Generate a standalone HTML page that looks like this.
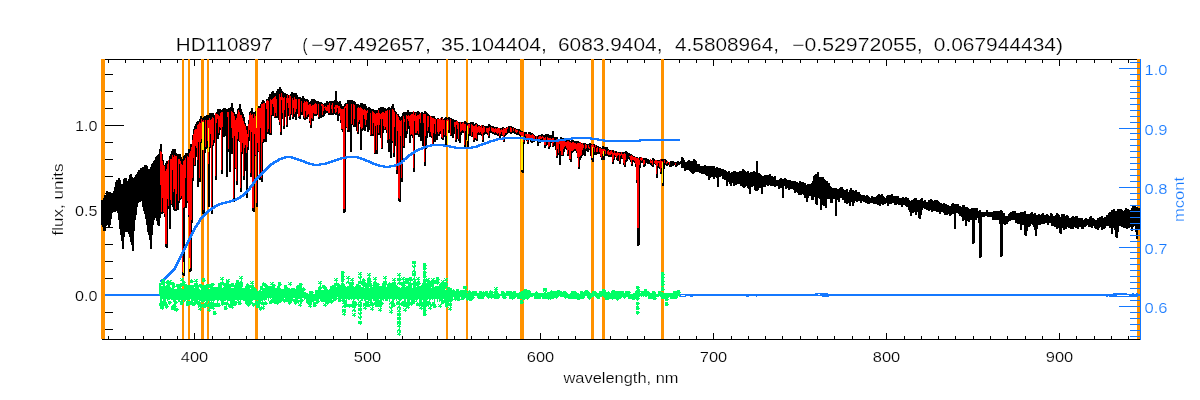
<!DOCTYPE html>
<html><head><meta charset="utf-8"><title>HD110897</title>
<style>html,body{margin:0;padding:0;background:#fff;width:1200px;height:400px;overflow:hidden;font-family:"Liberation Sans",sans-serif}</style>
</head><body>
<svg width="1200" height="400" viewBox="0 0 1200 400" style="position:absolute;left:0;top:0">
<rect width="1200" height="400" fill="#fff"/>
<g stroke="#000" stroke-width="1" fill="none" shape-rendering="crispEdges">
<path d="M105,59.5H1137M102,339.5H1140"/>
<path d="M108.5,59.5v3.5M108.5,339.5v-3.5M125.5,59.5v3.5M125.5,339.5v-3.5M143.5,59.5v3.5M143.5,339.5v-3.5M160.5,59.5v3.5M160.5,339.5v-3.5M177.5,59.5v3.5M177.5,339.5v-3.5M194.5,59.5v6.5M194.5,339.5v-6.5M212.5,59.5v3.5M212.5,339.5v-3.5M229.5,59.5v3.5M229.5,339.5v-3.5M246.5,59.5v3.5M246.5,339.5v-3.5M264.5,59.5v3.5M264.5,339.5v-3.5M281.5,59.5v3.5M281.5,339.5v-3.5M298.5,59.5v3.5M298.5,339.5v-3.5M315.5,59.5v3.5M315.5,339.5v-3.5M333.5,59.5v3.5M333.5,339.5v-3.5M350.5,59.5v3.5M350.5,339.5v-3.5M367.5,59.5v6.5M367.5,339.5v-6.5M385.5,59.5v3.5M385.5,339.5v-3.5M402.5,59.5v3.5M402.5,339.5v-3.5M419.5,59.5v3.5M419.5,339.5v-3.5M437.5,59.5v3.5M437.5,339.5v-3.5M454.5,59.5v3.5M454.5,339.5v-3.5M471.5,59.5v3.5M471.5,339.5v-3.5M488.5,59.5v3.5M488.5,339.5v-3.5M506.5,59.5v3.5M506.5,339.5v-3.5M523.5,59.5v3.5M523.5,339.5v-3.5M540.5,59.5v6.5M540.5,339.5v-6.5M558.5,59.5v3.5M558.5,339.5v-3.5M575.5,59.5v3.5M575.5,339.5v-3.5M592.5,59.5v3.5M592.5,339.5v-3.5M610.5,59.5v3.5M610.5,339.5v-3.5M627.5,59.5v3.5M627.5,339.5v-3.5M644.5,59.5v3.5M644.5,339.5v-3.5M661.5,59.5v3.5M661.5,339.5v-3.5M679.5,59.5v3.5M679.5,339.5v-3.5M696.5,59.5v3.5M696.5,339.5v-3.5M713.5,59.5v6.5M713.5,339.5v-6.5M731.5,59.5v3.5M731.5,339.5v-3.5M748.5,59.5v3.5M748.5,339.5v-3.5M765.5,59.5v3.5M765.5,339.5v-3.5M782.5,59.5v3.5M782.5,339.5v-3.5M800.5,59.5v3.5M800.5,339.5v-3.5M817.5,59.5v3.5M817.5,339.5v-3.5M834.5,59.5v3.5M834.5,339.5v-3.5M852.5,59.5v3.5M852.5,339.5v-3.5M869.5,59.5v3.5M869.5,339.5v-3.5M886.5,59.5v6.5M886.5,339.5v-6.5M904.5,59.5v3.5M904.5,339.5v-3.5M921.5,59.5v3.5M921.5,339.5v-3.5M938.5,59.5v3.5M938.5,339.5v-3.5M955.5,59.5v3.5M955.5,339.5v-3.5M973.5,59.5v3.5M973.5,339.5v-3.5M990.5,59.5v3.5M990.5,339.5v-3.5M1007.5,59.5v3.5M1007.5,339.5v-3.5M1025.5,59.5v3.5M1025.5,339.5v-3.5M1042.5,59.5v3.5M1042.5,339.5v-3.5M1059.5,59.5v6.5M1059.5,339.5v-6.5M1076.5,59.5v3.5M1076.5,339.5v-3.5M1094.5,59.5v3.5M1094.5,339.5v-3.5M1111.5,59.5v3.5M1111.5,339.5v-3.5M1128.5,59.5v3.5M1128.5,339.5v-3.5M105,329.5h8M105,312.5h8M105,295.5h19M105,278.5h8M105,261.5h8M105,244.5h8M105,227.5h8M105,210.5h19M105,193.5h8M105,176.5h8M105,159.5h8M105,142.5h8M105,125.5h19M105,108.5h8M105,91.5h8M105,74.5h8"/>
</g>
<g fill="#ff9200" shape-rendering="crispEdges">
<rect x="101" y="59" width="4" height="280"/>
<rect x="182" y="59" width="2" height="280"/>
<rect x="188" y="59" width="2" height="280"/>
<rect x="201" y="59" width="3" height="280"/>
<rect x="207" y="59" width="2" height="280"/>
<rect x="255" y="59" width="3" height="280"/>
<rect x="446" y="59" width="2" height="280"/>
<rect x="466" y="59" width="2" height="280"/>
<rect x="520" y="59" width="4" height="280"/>
<rect x="591" y="59" width="3" height="280"/>
<rect x="602" y="59" width="3" height="280"/>
<rect x="661" y="59" width="3" height="280"/>
<rect x="1137" y="59" width="3" height="280"/>
</g>
<path d="M101.5,200V225M102.5,200V227M103.5,198V231M104.5,195V231M105.5,195V231M106.5,191V226M107.5,191V225M108.5,192V227M109.5,192V227M110.5,192V225M111.5,193V219M112.5,193V213M113.5,191V212M114.5,187V212M115.5,182V212M116.5,180V210M117.5,180V213M118.5,178V220M119.5,178V229M120.5,180V235M121.5,184V241M122.5,184V249M123.5,179V249M124.5,178V237M125.5,178V232M126.5,178V232M127.5,181V232M128.5,179V234M129.5,175V237M130.5,174V242M131.5,174V245M132.5,177V251M133.5,178V251M134.5,177V231M135.5,175V220M136.5,174V215M137.5,172V207M138.5,170V203M139.5,170V202M140.5,168V202M141.5,168V201M142.5,167V207M143.5,167V211M144.5,165V214M145.5,165V219M146.5,165V225M147.5,166V232M148.5,169V235M149.5,169V240M150.5,167V249M151.5,164V249M152.5,163V235M153.5,161V225M154.5,160V220M155.5,157V218M156.5,156V221M157.5,155V225M158.5,154V226M159.5,149V226M160.5,144V218M161.5,144V214M162.5,154V214M163.5,160V213M164.5,165V217M165.5,163V247M166.5,161V248M167.5,161V248M168.5,161V209M169.5,156V229M170.5,154V229M171.5,151V205M172.5,149V207M173.5,149V210M174.5,149V211M175.5,149V211M176.5,153V211M177.5,154V210M178.5,154V210M179.5,154V203M180.5,154V200M181.5,157V199M182.5,159V275M183.5,156V276M184.5,155V276M185.5,153V208M186.5,153V208M187.5,153V203M188.5,149V217M189.5,149V272M190.5,144V272M191.5,144V271M192.5,135V223M193.5,129V181M194.5,126V166M195.5,124V166M196.5,122V157M197.5,121V187M198.5,121V187M199.5,119V182M200.5,116V182M201.5,116V143M202.5,118V214M203.5,117V214M204.5,116V213M205.5,116V153M206.5,115V149M207.5,115V148M208.5,115V207M209.5,113V207M210.5,113V148M211.5,113V214M212.5,113V214M213.5,113V146M214.5,115V143M215.5,114V180M216.5,112V180M217.5,109V139M218.5,109V139M219.5,109V135M220.5,109V130M221.5,110V174M222.5,109V174M223.5,108V137M224.5,108V137M225.5,108V136M226.5,109V177M227.5,109V177M228.5,108V152M229.5,108V172M230.5,107V172M231.5,103V154M232.5,103V154M233.5,108V202M234.5,112V202M235.5,114V169M236.5,114V185M237.5,109V185M238.5,108V141M239.5,104V142M240.5,104V192M241.5,109V192M242.5,112V154M243.5,114V180M244.5,117V180M245.5,123V171M246.5,126V198M247.5,126V198M248.5,120V150M249.5,112V141M250.5,111V177M251.5,108V177M252.5,108V211M253.5,112V212M254.5,112V212M255.5,111V156M256.5,108V207M257.5,108V207M258.5,106V152M259.5,106V180M260.5,104V180M261.5,102V182M262.5,100V182M263.5,100V143M264.5,101V142M265.5,103V142M266.5,99V142M267.5,99V134M268.5,97V134M269.5,94V135M270.5,94V135M271.5,92V135M272.5,91V116M273.5,91V116M274.5,93V118M275.5,93V118M276.5,91V118M277.5,89V118M278.5,89V120M279.5,87V125M280.5,87V135M281.5,89V135M282.5,91V119M283.5,92V129M284.5,93V129M285.5,93V117M286.5,94V127M287.5,94V127M288.5,95V116M289.5,95V120M290.5,94V120M291.5,92V115M292.5,92V119M293.5,93V119M294.5,93V117M295.5,93V120M296.5,93V120M297.5,95V114M298.5,97V118M299.5,97V119M300.5,97V119M301.5,98V115M302.5,96V115M303.5,96V119M304.5,98V120M305.5,99V120M306.5,99V119M307.5,99V119M308.5,100V117M309.5,102V123M310.5,101V128M311.5,99V128M312.5,99V121M313.5,99V121M314.5,99V116M315.5,100V116M316.5,101V116M317.5,101V115M318.5,101V119M319.5,102V119M320.5,102V118M321.5,102V118M322.5,103V117M323.5,104V117M324.5,103V116M325.5,103V114M326.5,101V113M327.5,101V113M328.5,102V115M329.5,101V115M330.5,101V115M331.5,101V115M332.5,101V115M333.5,101V115M334.5,100V114M335.5,91V115M336.5,91V115M337.5,101V121M338.5,102V121M339.5,101V116M340.5,101V123M341.5,104V130M342.5,106V132M343.5,106V213M344.5,104V213M345.5,103V212M346.5,103V128M347.5,100V132M348.5,100V132M349.5,100V132M350.5,100V152M351.5,100V152M352.5,100V125M353.5,101V127M354.5,101V127M355.5,102V127M356.5,104V131M357.5,104V134M358.5,104V134M359.5,105V124M360.5,103V150M361.5,103V150M362.5,103V131M363.5,104V130M364.5,104V131M365.5,104V131M366.5,106V127M367.5,108V132M368.5,107V132M369.5,107V130M370.5,108V136M371.5,109V136M372.5,109V136M373.5,109V136M374.5,110V154M375.5,110V154M376.5,110V154M377.5,110V154M378.5,108V135M379.5,108V135M380.5,107V138M381.5,107V149M382.5,107V149M383.5,107V133M384.5,108V130M385.5,108V130M386.5,109V133M387.5,108V143M388.5,107V152M389.5,107V152M390.5,108V158M391.5,106V158M392.5,104V143M393.5,104V157M394.5,108V157M395.5,111V146M396.5,112V174M397.5,114V174M398.5,114V201M399.5,116V202M400.5,117V202M401.5,116V182M402.5,113V182M403.5,112V148M404.5,112V148M405.5,112V138M406.5,112V138M407.5,110V134M408.5,110V129M409.5,112V143M410.5,112V143M411.5,112V136M412.5,112V138M413.5,112V172M414.5,112V172M415.5,112V135M416.5,112V135M417.5,111V135M418.5,111V137M419.5,112V137M420.5,113V141M421.5,112V141M422.5,112V146M423.5,113V147M424.5,111V166M425.5,111V166M426.5,112V149M427.5,113V138M428.5,114V133M429.5,115V137M430.5,116V137M431.5,116V138M432.5,116V146M433.5,116V146M434.5,116V142M435.5,118V142M436.5,119V140M437.5,118V140M438.5,118V136M439.5,119V136M440.5,119V134M441.5,117V139M442.5,117V140M443.5,119V140M444.5,118V137M445.5,117V146M446.5,117V146M447.5,118V138M448.5,117V133M449.5,117V133M450.5,118V136M451.5,118V136M452.5,119V138M453.5,119V138M454.5,120V134M455.5,120V142M456.5,120V142M457.5,121V139M458.5,122V141M459.5,122V143M460.5,122V143M461.5,122V135M462.5,122V133M463.5,123V133M464.5,121V147M465.5,121V147M466.5,122V140M467.5,123V148M468.5,123V148M469.5,123V136M470.5,122V136M471.5,122V137M472.5,122V137M473.5,122V142M474.5,124V142M475.5,123V140M476.5,123V141M477.5,124V141M478.5,125V135M479.5,125V135M480.5,126V135M481.5,125V136M482.5,125V142M483.5,125V142M484.5,126V135M485.5,126V134M486.5,126V134M487.5,126V135M488.5,124V138M489.5,124V138M490.5,125V133M491.5,126V133M492.5,126V134M493.5,126V134M494.5,127V135M495.5,127V135M496.5,127V135M497.5,127V136M498.5,129V136M499.5,128V138M500.5,128V138M501.5,128V136M502.5,127V136M503.5,127V142M504.5,128V142M505.5,128V136M506.5,127V135M507.5,127V134M508.5,126V133M509.5,126V133M510.5,126V134M511.5,126V134M512.5,127V133M513.5,127V133M514.5,128V134M515.5,128V134M516.5,129V135M517.5,129V135M518.5,129V135M519.5,129V136M520.5,130V137M521.5,131V172M522.5,131V173M523.5,132V173M524.5,132V144M525.5,132V138M526.5,132V141M527.5,134V144M528.5,132V144M529.5,132V140M530.5,132V142M531.5,133V143M532.5,133V143M533.5,134V142M534.5,135V142M535.5,136V141M536.5,136V140M537.5,136V146M538.5,135V146M539.5,135V143M540.5,135V143M541.5,134V141M542.5,134V141M543.5,135V142M544.5,135V148M545.5,134V148M546.5,134V146M547.5,134V145M548.5,134V149M549.5,135V149M550.5,135V147M551.5,135V143M552.5,131V147M553.5,131V147M554.5,137V146M555.5,137V150M556.5,137V158M557.5,137V158M558.5,139V155M559.5,139V165M560.5,137V165M561.5,137V156M562.5,138V156M563.5,138V156M564.5,139V152M565.5,140V149M566.5,138V150M567.5,138V156M568.5,140V156M569.5,140V160M570.5,141V162M571.5,140V162M572.5,140V153M573.5,140V152M574.5,141V151M575.5,141V151M576.5,141V153M577.5,141V158M578.5,141V169M579.5,142V169M580.5,143V160M581.5,143V158M582.5,143V156M583.5,143V155M584.5,143V156M585.5,143V156M586.5,144V151M587.5,144V152M588.5,144V152M589.5,143V150M590.5,143V156M591.5,144V160M592.5,144V162M593.5,144V162M594.5,144V155M595.5,145V155M596.5,145V155M597.5,146V154M598.5,146V154M599.5,147V154M600.5,147V157M601.5,148V160M602.5,146V160M603.5,146V160M604.5,147V160M605.5,147V156M606.5,147V156M607.5,147V156M608.5,149V157M609.5,150V157M610.5,150V157M611.5,150V157M612.5,150V164M613.5,150V164M614.5,151V160M615.5,151V157M616.5,151V160M617.5,152V161M618.5,152V161M619.5,152V164M620.5,152V164M621.5,152V159M622.5,152V159M623.5,152V165M624.5,152V167M625.5,151V167M626.5,151V162M627.5,152V161M628.5,153V159M629.5,153V160M630.5,154V162M631.5,154V166M632.5,155V166M633.5,156V162M634.5,156V163M635.5,157V167M636.5,157V183M637.5,157V246M638.5,158V246M639.5,157V245M640.5,157V168M641.5,158V163M642.5,158V163M643.5,158V167M644.5,158V167M645.5,158V166M646.5,158V163M647.5,159V164M648.5,159V164M649.5,160V164M650.5,160V165M651.5,160V166M652.5,158V167M653.5,158V167M654.5,159V164M655.5,160V165M656.5,161V178M657.5,160V178M658.5,160V168M659.5,160V169M660.5,159V174M661.5,159V174M662.5,159V186M663.5,159V186M664.5,159V169M665.5,159V165M666.5,160V166M667.5,161V166M668.5,162V165M669.5,162V167M670.5,161V167M671.5,161V167M672.5,161V166M673.5,161V166M674.5,162V165M675.5,162V167M676.5,162V167M677.5,161V166M678.5,161V165M679.5,162V165M680.5,161V164M681.5,157V168M682.5,157V168M683.5,158V168M684.5,160V171M685.5,162V171M686.5,162V170M687.5,161V170M688.5,160V170M689.5,160V171M690.5,161V172M691.5,161V173M692.5,161V174M693.5,159V174M694.5,159V173M695.5,160V172M696.5,161V172M697.5,164V172M698.5,164V172M699.5,164V173M700.5,166V173M701.5,166V174M702.5,166V174M703.5,166V174M704.5,165V174M705.5,165V175M706.5,166V176M707.5,166V176M708.5,166V180M709.5,166V180M710.5,166V178M711.5,166V177M712.5,166V177M713.5,166V179M714.5,166V179M715.5,168V177M716.5,167V178M717.5,167V187M718.5,168V187M719.5,168V177M720.5,168V177M721.5,169V176M722.5,169V179M723.5,169V179M724.5,170V180M725.5,170V180M726.5,171V186M727.5,172V186M728.5,171V182M729.5,171V184M730.5,173V186M731.5,172V186M732.5,172V183M733.5,171V186M734.5,171V186M735.5,171V185M736.5,172V185M737.5,172V184M738.5,172V184M739.5,171V184M740.5,171V186M741.5,171V186M742.5,169V187M743.5,169V188M744.5,170V188M745.5,171V187M746.5,172V186M747.5,171V188M748.5,171V189M749.5,173V194M750.5,172V194M751.5,172V187M752.5,172V187M753.5,171V186M754.5,171V190M755.5,172V191M756.5,161V191M757.5,161V191M758.5,173V190M759.5,173V188M760.5,174V188M761.5,175V194M762.5,176V194M763.5,176V187M764.5,175V187M765.5,175V187M766.5,175V185M767.5,175V186M768.5,175V186M769.5,174V185M770.5,174V186M771.5,176V186M772.5,176V186M773.5,177V186M774.5,176V187M775.5,176V187M776.5,180V186M777.5,180V186M778.5,180V189M779.5,179V189M780.5,178V188M781.5,178V188M782.5,179V198M783.5,179V198M784.5,178V186M785.5,178V189M786.5,179V189M787.5,180V188M788.5,180V190M789.5,180V190M790.5,180V189M791.5,181V189M792.5,181V189M793.5,181V190M794.5,181V193M795.5,181V193M796.5,182V192M797.5,182V193M798.5,183V195M799.5,181V195M800.5,181V195M801.5,182V195M802.5,182V194M803.5,182V195M804.5,183V198M805.5,183V198M806.5,185V202M807.5,184V202M808.5,184V198M809.5,184V196M810.5,184V196M811.5,183V200M812.5,181V200M813.5,176V200M814.5,175V197M815.5,174V204M816.5,174V205M817.5,172V205M818.5,172V198M819.5,177V199M820.5,177V210M821.5,177V210M822.5,177V205M823.5,177V206M824.5,179V206M825.5,180V208M826.5,181V208M827.5,181V199M828.5,183V199M829.5,183V199M830.5,186V203M831.5,187V203M832.5,188V203M833.5,188V199M834.5,188V199M835.5,188V216M836.5,188V216M837.5,189V200M838.5,189V202M839.5,188V202M840.5,187V198M841.5,187V198M842.5,187V200M843.5,189V200M844.5,190V203M845.5,190V203M846.5,189V204M847.5,189V204M848.5,192V203M849.5,190V206M850.5,188V206M851.5,188V202M852.5,190V206M853.5,190V206M854.5,191V203M855.5,190V201M856.5,190V202M857.5,192V202M858.5,192V201M859.5,192V201M860.5,194V203M861.5,195V203M862.5,195V201M863.5,195V202M864.5,195V202M865.5,196V203M866.5,195V203M867.5,195V204M868.5,196V204M869.5,197V204M870.5,198V203M871.5,196V203M872.5,196V203M873.5,197V204M874.5,197V204M875.5,197V204M876.5,196V204M877.5,195V205M878.5,194V205M879.5,194V206M880.5,195V206M881.5,194V204M882.5,194V205M883.5,196V205M884.5,197V204M885.5,198V204M886.5,196V203M887.5,195V206M888.5,195V206M889.5,195V204M890.5,195V204M891.5,194V204M892.5,194V203M893.5,196V203M894.5,196V205M895.5,196V205M896.5,196V205M897.5,196V204M898.5,196V205M899.5,198V205M900.5,198V205M901.5,198V207M902.5,197V207M903.5,197V205M904.5,198V205M905.5,197V206M906.5,197V207M907.5,198V207M908.5,198V210M909.5,200V212M910.5,201V216M911.5,200V216M912.5,200V213M913.5,199V213M914.5,198V212M915.5,198V215M916.5,198V215M917.5,200V212M918.5,200V218M919.5,200V219M920.5,199V219M921.5,198V215M922.5,198V210M923.5,201V208M924.5,200V209M925.5,200V209M926.5,202V210M927.5,202V210M928.5,200V211M929.5,200V211M930.5,199V210M931.5,199V212M932.5,200V212M933.5,201V211M934.5,200V211M935.5,200V211M936.5,200V212M937.5,200V212M938.5,201V212M939.5,202V214M940.5,203V214M941.5,203V212M942.5,204V212M943.5,203V213M944.5,203V215M945.5,204V215M946.5,204V215M947.5,205V215M948.5,205V214M949.5,206V216M950.5,206V216M951.5,204V215M952.5,203V214M953.5,203V214M954.5,204V229M955.5,204V229M956.5,204V213M957.5,204V213M958.5,204V214M959.5,206V216M960.5,206V216M961.5,207V217M962.5,205V221M963.5,205V221M964.5,205V220M965.5,207V226M966.5,207V226M967.5,207V221M968.5,208V222M969.5,209V222M970.5,209V220M971.5,208V220M972.5,208V244M973.5,208V244M974.5,208V243M975.5,208V220M976.5,208V220M977.5,208V218M978.5,211V223M979.5,210V258M980.5,210V258M981.5,212V257M982.5,212V217M983.5,212V217M984.5,212V217M985.5,212V216M986.5,210V216M987.5,210V217M988.5,212V217M989.5,212V217M990.5,212V217M991.5,212V217M992.5,212V220M993.5,211V220M994.5,211V220M995.5,211V220M996.5,211V220M997.5,211V220M998.5,211V220M999.5,211V224M1000.5,210V257M1001.5,210V257M1002.5,211V256M1003.5,213V224M1004.5,213V225M1005.5,216V225M1006.5,216V224M1007.5,216V224M1008.5,214V222M1009.5,213V221M1010.5,212V221M1011.5,212V220M1012.5,211V220M1013.5,211V220M1014.5,211V220M1015.5,211V223M1016.5,213V223M1017.5,213V224M1018.5,213V224M1019.5,213V224M1020.5,212V230M1021.5,212V230M1022.5,212V225M1023.5,212V225M1024.5,211V235M1025.5,211V236M1026.5,214V236M1027.5,214V231M1028.5,214V227M1029.5,214V227M1030.5,213V226M1031.5,212V224M1032.5,212V225M1033.5,214V227M1034.5,213V230M1035.5,213V236M1036.5,215V236M1037.5,215V229M1038.5,214V225M1039.5,214V225M1040.5,215V225M1041.5,214V224M1042.5,213V224M1043.5,213V224M1044.5,215V224M1045.5,215V223M1046.5,214V223M1047.5,214V225M1048.5,215V225M1049.5,216V223M1050.5,213V223M1051.5,213V226M1052.5,214V226M1053.5,216V226M1054.5,216V227M1055.5,215V227M1056.5,213V229M1057.5,213V229M1058.5,214V228M1059.5,215V233M1060.5,217V234M1061.5,214V234M1062.5,214V228M1063.5,214V230M1064.5,214V230M1065.5,216V229M1066.5,215V229M1067.5,215V227M1068.5,216V228M1069.5,218V228M1070.5,218V229M1071.5,217V229M1072.5,216V229M1073.5,216V229M1074.5,217V227M1075.5,216V228M1076.5,216V228M1077.5,216V229M1078.5,218V229M1079.5,218V227M1080.5,218V227M1081.5,218V229M1082.5,218V229M1083.5,220V229M1084.5,219V227M1085.5,218V227M1086.5,218V226M1087.5,219V225M1088.5,219V227M1089.5,217V227M1090.5,216V227M1091.5,216V228M1092.5,218V228M1093.5,218V226M1094.5,219V228M1095.5,220V229M1096.5,220V229M1097.5,218V230M1098.5,218V230M1099.5,217V228M1100.5,217V227M1101.5,216V230M1102.5,216V230M1103.5,218V229M1104.5,217V229M1105.5,217V228M1106.5,215V226M1107.5,215V226M1108.5,213V226M1109.5,212V228M1110.5,212V228M1111.5,210V234M1112.5,210V234M1113.5,209V228M1114.5,209V230M1115.5,211V237M1116.5,211V238M1117.5,209V238M1118.5,209V232M1119.5,209V226M1120.5,209V226M1121.5,209V227M1122.5,210V227M1123.5,211V228M1124.5,210V228M1125.5,208V228M1126.5,208V229M1127.5,209V229M1128.5,209V228M1129.5,210V228M1130.5,210V227M1131.5,208V231M1132.5,205V231M1133.5,205V227M1134.5,205V226M1135.5,205V232M1136.5,207V239M1137.5,207V239M1138.5,208V230M1139.5,208V230M1140.5,207V230" stroke="#000" stroke-width="1" fill="none" shape-rendering="crispEdges"/>
<path d="M160.5,151V185M161.5,152V212M162.5,161V198M163.5,165V212M164.5,166V214M165.5,171V244M166.5,169V244M167.5,164V199M168.5,160V206M170.5,159V200M171.5,159V204M172.5,155V170M173.5,157V192M174.5,155V189M175.5,156V209M176.5,156V194M178.5,159V201M179.5,159V164M180.5,161V198M181.5,164V196M182.5,165V272M183.5,161V208M184.5,160V207M185.5,158V178M187.5,156V201M188.5,157V215M189.5,153V268M190.5,151V268M191.5,147V220M192.5,140V178M193.5,134V158M194.5,130V165M195.5,129V146M196.5,129V148M197.5,125V160M198.5,124V142M199.5,122V178M200.5,123V142M201.5,119V139M202.5,121V143M203.5,120V210M205.5,120V147M207.5,120V141M208.5,120V164M209.5,118V147M210.5,120V134M211.5,119V210M212.5,117V145M213.5,118V140M215.5,113V176M216.5,114V123M217.5,114V119M218.5,115V133M219.5,116V127M220.5,113V128M221.5,112V170M222.5,112V127M227.5,112V117M228.5,112V149M231.5,111V128M232.5,112V138M233.5,113V198M234.5,116V136M235.5,120V168M236.5,118V181M237.5,114V139M238.5,110V132M239.5,112V141M240.5,115V188M241.5,115V152M242.5,118V143M243.5,121V176M244.5,124V148M245.5,126V145M246.5,130V153M247.5,134V147M248.5,124V137M249.5,115V130M250.5,113V173M251.5,115V132M252.5,114V208M253.5,118V208M254.5,114V134M255.5,116V155M256.5,112V203M257.5,108V143M258.5,108V151M259.5,108V177M260.5,108V128M261.5,104V178M262.5,104V142M263.5,103V139M264.5,103V139M266.5,101V109M267.5,100V132M268.5,101V129M270.5,99V133M271.5,100V115M272.5,99V104M273.5,98V107M274.5,97V117M275.5,96V113M276.5,99V116M279.5,94V122M280.5,97V132M281.5,93V100M282.5,97V113M283.5,98V126M284.5,97V110M286.5,98V125M287.5,95V103M288.5,98V108M289.5,95V117M290.5,96V114M292.5,98V117M293.5,100V108M294.5,97V114M295.5,99V112M296.5,99V109M298.5,99V117M299.5,99V116M301.5,101V112M303.5,103V116M304.5,101V118M305.5,102V111M306.5,101V117M307.5,102V115M308.5,105V114M309.5,104V121M310.5,104V125M311.5,106V118M312.5,105V119M313.5,105V113M314.5,104V114M315.5,103V114M316.5,104V114M318.5,104V117M321.5,104V106M322.5,104V115M323.5,105V111M324.5,107V108M325.5,106V110M326.5,107V111M327.5,105V111M328.5,105V113M329.5,103V113M331.5,105V109M332.5,103V113M334.5,107V109M335.5,105V113M336.5,105V112M337.5,105V108M338.5,106V114M339.5,106V113M340.5,108V120M341.5,109V129M342.5,109V129M343.5,109V209M344.5,107V209M345.5,106V108M346.5,104V127M347.5,104V130M351.5,104V124M353.5,104V125M354.5,105V119M357.5,108V132M358.5,107V122M359.5,108V120M360.5,107V127M361.5,108V129M362.5,109V128M363.5,110V115M364.5,109V119M365.5,110V125M366.5,111V120M367.5,110V113M370.5,113V135M372.5,111V134M373.5,112V123M374.5,113V153M375.5,114V126M376.5,113V150M377.5,113V125M378.5,110V133M379.5,113V125M380.5,114V119M381.5,113V148M382.5,112V119M383.5,112V126M384.5,113V129M385.5,111V127M386.5,111V130M387.5,110V140M389.5,110V139M392.5,109V141M393.5,110V153M394.5,112V127M396.5,114V170M397.5,115V131M398.5,117V198M399.5,120V199M400.5,121V136M401.5,120V178M403.5,116V146M404.5,119V122M406.5,115V131M407.5,116V119M408.5,115V121M409.5,116V126M410.5,115V135M411.5,114V134M412.5,114V135M413.5,111V168M414.5,115V121M415.5,113V133M416.5,116V133M417.5,115V131M418.5,115V134M419.5,114V119M420.5,113V123M423.5,114V123M424.5,114V162M425.5,114V136M427.5,116V131M428.5,116V127M430.5,116V132M431.5,117V136M432.5,118V144M433.5,118V133M434.5,119V124M435.5,119V134M437.5,119V132M438.5,119V134M439.5,119V132M440.5,118V131M441.5,120V137M442.5,118V138M443.5,120V129M444.5,120V135M446.5,120V136M447.5,119V124M448.5,120V130M450.5,119V135M454.5,122V127M455.5,122V140M456.5,121V125M457.5,121V129M458.5,123V139M460.5,122V132M461.5,124V131M462.5,123V130M463.5,122V131M464.5,124V145M465.5,124V131M467.5,125V132M468.5,124V134M469.5,124V128M471.5,124V136M472.5,125V132M473.5,126V140M474.5,126V138M475.5,125V138M476.5,124V139M477.5,127V133M478.5,126V132M479.5,126V133M480.5,127V132M481.5,125V134M482.5,128V140M483.5,126V133M484.5,127V132M486.5,128V132M487.5,128V133M488.5,128V136M489.5,127V131M491.5,127V131M492.5,128V132M493.5,128V132M494.5,129V133M495.5,128V132M496.5,129V133M497.5,128V134M498.5,128V133M499.5,128V136M500.5,130V134M501.5,129V132M502.5,130V135M503.5,128V141M504.5,129V135M505.5,128V133M506.5,128V133M507.5,127V129M510.5,127V132M511.5,128V132M513.5,128V131M515.5,129V132M516.5,130V133M517.5,130V132M519.5,131V134M520.5,132V135M521.5,132V169M522.5,132V169M523.5,132V142M525.5,134V136M526.5,134V140M527.5,134V142M528.5,134V138M529.5,134V138M530.5,135V138M531.5,135V140M532.5,134V138M533.5,135V140M534.5,136V139M536.5,136V139M538.5,137V141M539.5,136V141M540.5,136V139M541.5,137V139M542.5,136V138M543.5,137V140M544.5,138V145M545.5,137V145M547.5,137V142M548.5,138V147M549.5,138V146M550.5,138V141M551.5,139V141M552.5,138V146M553.5,138V143M554.5,140V142M556.5,139V156M557.5,140V149M558.5,140V153M559.5,140V144M560.5,140V151M561.5,140V155M562.5,141V155M563.5,141V149M564.5,139V147M565.5,142V146M566.5,142V148M567.5,141V154M568.5,141V150M569.5,142V159M570.5,142V159M571.5,143V151M572.5,142V151M573.5,142V150M574.5,143V149M575.5,143V149M576.5,144V151M577.5,143V157M578.5,143V167M579.5,143V157M580.5,142V156M581.5,144V155M582.5,143V150M583.5,145V148M585.5,144V149M586.5,145V148M588.5,145V148M589.5,147V149M591.5,145V158M592.5,144V158M593.5,145V148M594.5,147V152M595.5,145V147M596.5,148V152M597.5,147V152M599.5,148V152M600.5,148V156M601.5,149V158M602.5,149V154M603.5,149V156M604.5,149V151M605.5,150V154M607.5,151V154M608.5,150V155M609.5,152V155M610.5,151V155M611.5,150V154M612.5,152V162M613.5,153V159M614.5,151V155M615.5,153V156M616.5,153V158M617.5,152V156M618.5,153V155M619.5,153V161M620.5,154V156M621.5,152V155M622.5,154V158M623.5,154V163M624.5,153V165M625.5,154V160M629.5,156V157M630.5,156V160M631.5,155V164M632.5,156V160M633.5,157V160M634.5,157V161M635.5,157V164M636.5,158V180M637.5,158V228M638.5,158V228M639.5,160V165M640.5,158V160M641.5,157V161M642.5,158V160M643.5,160V165M644.5,160V164M650.5,159V163M651.5,161V163M652.5,160V165M654.5,161V163M655.5,160V164M656.5,160V174M657.5,161V166M658.5,161V163M659.5,161V167M660.5,159V172M661.5,161V168M662.5,161V182M664.5,160V163M666.5,162V164M667.5,161V163M669.5,162V165M675.5,163V165" stroke="#ff0000" stroke-width="1" fill="none" shape-rendering="crispEdges"/>
<g fill="#ffee00" shape-rendering="crispEdges">
<rect x="183" y="262" width="1" height="11"/>
<rect x="189" y="258" width="1" height="11"/>
<rect x="202" y="122" width="2" height="28"/>
<rect x="208" y="128" width="1" height="24"/>
<rect x="256" y="106" width="1" height="22"/>
<rect x="447" y="121" width="1" height="23"/>
<rect x="467" y="126" width="1" height="15"/>
<rect x="521" y="136" width="2" height="34"/>
<rect x="592" y="147" width="1" height="11"/>
<rect x="603" y="151" width="1" height="5"/>
<rect x="662" y="162" width="1" height="21"/>
</g>
<g stroke="#1478ff" fill="none" shape-rendering="crispEdges">
<path d="M105,295H160M680,295H1140" stroke-width="2"/>
<path d="M160.5,280V282M161.5,279V282M162.5,279V282M163.5,278V281M164.5,277V281M165.5,276V280M166.5,275V279M167.5,274V278M168.5,273V277M169.5,272V276M170.5,271V275M171.5,270V274M172.5,269V273M173.5,268V272M174.5,266V271M175.5,264V270M176.5,262V268M177.5,260V266M178.5,258V264M179.5,256V262M180.5,254V260M181.5,252V258M182.5,250V256M183.5,248V254M184.5,246V252M185.5,244V250M186.5,242V248M187.5,240V246M188.5,238V244M189.5,236V242M190.5,234V240M191.5,232V238M192.5,230V236M193.5,228V234M194.5,226V232M195.5,225V230M196.5,223V228M197.5,222V227M198.5,220V225M199.5,218V224M200.5,217V222M201.5,216V220M202.5,215V219M203.5,214V218M204.5,213V217M205.5,212V216M206.5,211V215M207.5,210V214M208.5,209V213M209.5,209V212M210.5,208V211M211.5,207V211M212.5,207V210M213.5,206V209M214.5,205V209M215.5,205V208M216.5,204V207M217.5,204V207M218.5,203V206M219.5,203V206M220.5,203V205M221.5,202V205M222.5,202V205M223.5,202V204M224.5,202V204M225.5,201V204M226.5,201V204M227.5,201V203M228.5,201V203M229.5,200V203M230.5,200V203M231.5,200V202M232.5,199V202M233.5,199V202M234.5,199V201M235.5,198V201M236.5,198V201M237.5,197V200M238.5,197V200M239.5,196V199M240.5,195V199M241.5,195V198M242.5,194V197M243.5,193V197M244.5,192V196M245.5,191V195M246.5,190V194M247.5,189V193M248.5,188V192M249.5,186V191M250.5,185V190M251.5,184V188M252.5,182V187M253.5,181V186M254.5,179V184M255.5,178V183M256.5,177V181M257.5,176V180M258.5,175V179M259.5,174V178M260.5,173V177M261.5,172V176M262.5,171V175M263.5,170V174M264.5,169V173M265.5,168V172M266.5,167V171M267.5,166V170M268.5,165V169M269.5,164V168M270.5,163V167M271.5,163V166M272.5,162V165M273.5,161V165M274.5,161V164M275.5,160V163M276.5,160V163M277.5,159V162M278.5,158V162M279.5,158V161M280.5,158V160M281.5,157V160M282.5,157V160M283.5,157V159M284.5,156V159M285.5,156V159M286.5,156V158M287.5,156V158M288.5,156V158M289.5,156V158M290.5,156V158M291.5,156V159M292.5,156V159M293.5,157V159M294.5,157V160M295.5,157V160M296.5,158V160M297.5,158V161M298.5,158V161M299.5,159V161M300.5,159V162M301.5,159V162M302.5,160V162M303.5,160V163M304.5,160V163M305.5,161V164M306.5,161V164M307.5,162V164M308.5,162V165M309.5,162V165M310.5,163V165M311.5,163V165M312.5,163V166M313.5,163V166M314.5,164V166M315.5,164V166M316.5,164V166M317.5,164V166M318.5,164V166M319.5,163V166M320.5,163V166M321.5,163V165M322.5,163V165M323.5,163V165M324.5,163V165M325.5,162V165M326.5,162V165M327.5,162V164M328.5,161V164M329.5,161V164M330.5,161V163M331.5,160V163M332.5,160V163M333.5,160V162M334.5,159V162M335.5,159V162M336.5,159V161M337.5,158V161M338.5,158V161M339.5,158V160M340.5,157V160M341.5,157V160M342.5,157V159M343.5,157V159M344.5,157V159M345.5,156V159M346.5,156V159M347.5,156V158M348.5,156V158M349.5,156V158M350.5,156V158M351.5,156V158M352.5,156V158M353.5,156V158M354.5,156V158M355.5,156V158M356.5,156V158M357.5,156V159M358.5,156V159M359.5,157V159M360.5,157V160M361.5,157V160M362.5,158V160M363.5,158V161M364.5,158V161M365.5,159V162M366.5,159V162M367.5,160V162M368.5,160V163M369.5,160V163M370.5,161V164M371.5,161V164M372.5,162V165M373.5,162V165M374.5,163V165M375.5,163V166M376.5,163V166M377.5,164V166M378.5,164V167M379.5,164V167M380.5,165V167M381.5,165V167M382.5,165V167M383.5,165V168M384.5,165V168M385.5,166V168M386.5,166V168M387.5,166V168M388.5,166V168M389.5,165V168M390.5,165V168M391.5,165V167M392.5,165V167M393.5,165V167M394.5,164V167M395.5,164V167M396.5,164V166M397.5,163V166M398.5,163V166M399.5,162V165M400.5,162V165M401.5,160V164M402.5,160V164M403.5,158V162M404.5,158V162M405.5,157V160M406.5,156V160M407.5,155V159M408.5,154V158M409.5,154V157M410.5,153V156M411.5,152V156M412.5,152V155M413.5,151V154M414.5,150V154M415.5,150V153M416.5,149V152M417.5,149V152M418.5,148V151M419.5,148V151M420.5,148V150M421.5,147V150M422.5,147V150M423.5,146V149M424.5,146V149M425.5,146V148M426.5,145V148M427.5,145V148M428.5,145V147M429.5,145V147M430.5,144V147M431.5,144V147M432.5,144V146M433.5,144V146M434.5,144V146M435.5,144V146M436.5,144V146M437.5,144V146M438.5,144V146M439.5,144V146M440.5,144V146M441.5,144V146M442.5,144V146M443.5,144V147M444.5,144V147M445.5,145V147M446.5,145V147M447.5,145V147M448.5,145V147M449.5,145V148M450.5,145V148M451.5,146V148M452.5,146V148M453.5,146V148M454.5,146V149M455.5,146V149M456.5,147V149M457.5,147V149M458.5,147V149M459.5,147V149M460.5,147V149M461.5,147V149M462.5,147V149M463.5,147V149M464.5,147V149M465.5,147V149M466.5,147V149M467.5,147V149M468.5,147V149M469.5,147V149M470.5,147V149M471.5,146V149M472.5,146V149M473.5,146V148M474.5,146V148M475.5,146V148M476.5,145V148M477.5,145V148M478.5,144V147M479.5,144V147M480.5,144V146M481.5,143V146M482.5,143V146M483.5,143V145M484.5,142V145M485.5,142V145M486.5,142V144M487.5,141V144M488.5,141V144M489.5,140V143M490.5,140V143M491.5,140V142M492.5,140V142M493.5,139V142M494.5,139V142M495.5,139V141M496.5,138V141M497.5,138V141M498.5,138V140M499.5,138V140M500.5,138V140M501.5,138V140M502.5,137V140M503.5,137V140M504.5,137V139M505.5,137V139M506.5,137V139M507.5,137V139M508.5,137V139M509.5,137V139M510.5,137V139M511.5,137V139M512.5,137V139M513.5,137V139M514.5,137V139M515.5,137V139M516.5,137V139M517.5,137V139M518.5,137V139M519.5,137V139M520.5,137V139M521.5,137V139M522.5,137V139M523.5,137V140M524.5,137V140M525.5,138V140M526.5,138V140M527.5,138V140M528.5,138V140M529.5,138V140M530.5,138V140M531.5,138V141M532.5,138V141M533.5,139V141M534.5,139V141M535.5,139V141M536.5,139V141M537.5,139V141M538.5,139V142M539.5,139V142M540.5,140V142M541.5,140V142M542.5,140V142M543.5,140V142M544.5,140V142M545.5,140V142M546.5,140V142M547.5,140V142M548.5,140V142M549.5,140V142M550.5,140V142M551.5,140V142M552.5,140V142M553.5,140V142M554.5,140V142M555.5,140V142M556.5,140V142M557.5,139V142M558.5,139V142M559.5,139V141M560.5,139V141M561.5,139V141M562.5,139V141M563.5,139V141M564.5,138V141M565.5,138V141M566.5,138V140M567.5,138V140M568.5,138V140M569.5,138V140M570.5,138V140M571.5,137V140M572.5,137V140M573.5,137V139M574.5,137V139M575.5,137V139M576.5,137V139M577.5,137V139M578.5,137V139M579.5,137V139M580.5,137V139M581.5,137V139M582.5,137V139M583.5,137V139M584.5,137V139M585.5,137V139M586.5,137V139M587.5,137V139M588.5,137V139M589.5,137V139M590.5,137V140M591.5,137V140M592.5,138V140M593.5,138V140M594.5,138V140M595.5,138V140M596.5,138V140M597.5,138V141M598.5,138V141M599.5,139V141M600.5,139V141M601.5,139V141M602.5,139V141M603.5,139V142M604.5,139V142M605.5,140V142M606.5,140V142M607.5,140V142M608.5,140V142M609.5,140V142M610.5,140V142M611.5,140V142M612.5,140V142M613.5,140V142M614.5,140V142M615.5,140V142M616.5,140V142M617.5,140V142M618.5,140V142M619.5,140V142M620.5,140V142M621.5,140V142M622.5,140V142M623.5,140V142M624.5,140V142M625.5,140V142M626.5,140V142M627.5,140V142M628.5,140V142M629.5,140V142M630.5,140V142M631.5,140V142M632.5,140V142M633.5,140V142M634.5,140V142M635.5,140V142M636.5,140V142M637.5,140V142M638.5,140V142M639.5,139V142M640.5,139V142M641.5,139V141M642.5,139V141M643.5,139V141M644.5,139V141M645.5,139V141M646.5,139V141M647.5,139V141M648.5,139V141M649.5,139V141M650.5,139V141M651.5,139V141M652.5,139V141M653.5,139V141M654.5,139V141M655.5,139V141M656.5,139V141M657.5,139V141M658.5,139V141M659.5,139V141M660.5,139V141M661.5,139V141M662.5,139V141M663.5,139V141M664.5,139V141M665.5,139V141M666.5,139V141M667.5,139V141M668.5,139V141M669.5,139V141M670.5,139V141M671.5,139V141M672.5,139V141M673.5,139V141M674.5,139V141M675.5,139V141M676.5,139V141M677.5,139V141M678.5,139V141M679.5,139V141" stroke-width="1"/>
<rect x="680" y="296" width="6" height="1" fill="#1478ff" stroke="none"/>
<rect x="690" y="296" width="3" height="1" fill="#1478ff" stroke="none"/>
<rect x="746" y="296" width="3" height="1" fill="#1478ff" stroke="none"/>
<rect x="756" y="296" width="1" height="1" fill="#1478ff" stroke="none"/>
<rect x="815" y="293" width="5" height="1" fill="#1478ff" stroke="none"/>
<rect x="820" y="293" width="8" height="1" fill="#1478ff" stroke="none"/>
<rect x="822" y="296" width="7" height="1" fill="#1478ff" stroke="none"/>
<rect x="1106" y="296" width="2" height="1" fill="#1478ff" stroke="none"/>
<rect x="1109" y="296" width="29" height="1" fill="#1478ff" stroke="none"/>
<rect x="1113" y="293" width="14" height="1" fill="#1478ff" stroke="none"/>
<rect x="1132" y="293" width="2" height="1" fill="#1478ff" stroke="none"/>
<rect x="1136" y="293" width="2" height="1" fill="#1478ff" stroke="none"/>
<rect x="1117" y="295" width="12" height="1" fill="#fff" stroke="none"/><rect x="681" y="295" width="4" height="1" fill="#fff" stroke="none"/><rect x="818" y="294" width="2" height="1" fill="#fff" stroke="none"/>
</g>
<path d="M160.0,283.4 L160.5,302.0 L161.0,285.6 L161.5,302.0 L162.0,286.7 L162.5,298.9 L163.0,286.2 L163.5,301.1 L164.0,284.3 L164.5,300.8 L165.0,286.5 L165.5,302.4 L166.0,285.7 L166.5,299.0 L167.0,285.3 L167.5,301.3 L168.0,287.6 L168.5,300.2 L169.0,284.4 L169.5,299.5 L170.0,287.4 L170.5,298.9 L171.0,287.7 L171.5,299.6 L172.0,288.7 L172.5,299.9 L173.0,286.2 L173.5,302.0 L174.0,288.9 L174.5,300.7 L175.0,289.5 L175.5,299.5 L176.0,289.3 L176.5,300.4 L177.0,289.7 L177.5,300.4 L178.0,287.2 L178.5,302.0 L179.0,286.6 L179.5,301.5 L180.0,289.6 L180.5,300.3 L181.0,288.3 L181.5,300.6 L182.0,288.9 L182.5,300.8 L183.0,289.0 L183.5,300.2 L184.0,289.7 L184.5,302.4 L185.0,288.3 L185.5,300.8 L186.0,287.2 L186.5,300.1 L187.0,287.3 L187.5,301.9 L188.0,288.6 L188.5,300.0 L189.0,287.1 L189.5,299.7 L190.0,289.5 L190.5,299.2 L191.0,287.9 L191.5,301.8 L192.0,288.6 L192.5,302.1 L193.0,287.0 L193.5,300.9 L194.0,288.1 L194.5,299.8 L195.0,289.3 L195.5,301.5 L196.0,288.8 L196.5,300.1 L197.0,287.1 L197.5,301.6 L198.0,287.8 L198.5,299.8 L199.0,288.9 L199.5,300.9 L200.0,289.6 L200.5,301.1 L201.0,289.7 L201.5,301.5 L202.0,288.5 L202.5,303.2 L203.0,288.5 L203.5,302.2 L204.0,287.7 L204.5,301.8 L205.0,289.6 L205.5,301.0 L206.0,288.8 L206.5,304.0 L207.0,288.2 L207.5,302.6 L208.0,289.5 L208.5,301.3 L209.0,289.2 L209.5,303.5 L210.0,288.7 L210.5,301.2 L211.0,288.7 L211.5,302.5 L212.0,286.8 L212.5,301.4 L213.0,289.6 L213.5,302.4 L214.0,287.0 L214.5,300.8 L215.0,287.6 L215.5,300.2 L216.0,287.1 L216.5,299.9 L217.0,287.5 L217.5,302.6 L218.0,288.0 L218.5,301.2 L219.0,287.1 L219.5,300.1 L220.0,288.9 L220.5,301.0 L221.0,286.3 L221.5,302.3 L222.0,288.1 L222.5,303.1 L223.0,288.1 L223.5,302.6 L224.0,287.3 L224.5,301.2 L225.0,288.8 L225.5,301.0 L226.0,285.7 L226.5,299.7 L227.0,286.8 L227.5,302.5 L228.0,285.9 L228.5,300.9 L229.0,286.9 L229.5,300.9 L230.0,286.7 L230.5,302.7 L231.0,287.8 L231.5,302.6 L232.0,287.6 L232.5,301.8 L233.0,289.0 L233.5,301.5 L234.0,288.0 L234.5,300.9 L235.0,286.0 L235.5,300.1 L236.0,287.5 L236.5,299.9 L237.0,288.1 L237.5,300.8 L238.0,288.8 L238.5,302.8 L239.0,288.3 L239.5,299.9 L240.0,289.2 L240.5,302.0 L241.0,286.6 L241.5,300.2 L242.0,288.2 L242.5,300.2 L243.0,288.2 L243.5,300.6 L244.0,288.0 L244.5,301.2 L245.0,287.9 L245.5,301.2 L246.0,286.2 L246.5,302.4 L247.0,289.3 L247.5,301.5 L248.0,286.8 L248.5,301.6 L249.0,286.2 L249.5,300.1 L250.0,289.0 L250.5,301.5 L251.0,291.6 L251.5,300.4 L252.0,290.1 L252.5,301.1 L253.0,291.4 L253.5,299.7 L254.0,291.6 L254.5,299.9 L255.0,289.6 L255.5,300.0 L256.0,289.3 L256.5,301.7 L257.0,291.6 L257.5,300.4 L258.0,291.1 L258.5,301.6 L259.0,290.7 L259.5,300.7 L260.0,290.1 L260.5,301.9 L261.0,290.9 L261.5,300.8 L262.0,291.2 L262.5,301.8 L263.0,289.5 L263.5,300.0 L264.0,289.3 L264.5,301.3 L265.0,288.4 L265.5,300.4 L266.0,288.5 L266.5,300.0 L267.0,289.6 L267.5,298.3 L268.0,289.4 L268.5,300.5 L269.0,288.9 L269.5,298.2 L270.0,289.4 L270.5,299.0 L271.0,289.2 L271.5,298.2 L272.0,288.6 L272.5,300.8 L273.0,288.4 L273.5,299.4 L274.0,289.2 L274.5,299.0 L275.0,288.4 L275.5,300.6 L276.0,287.9 L276.5,300.7 L277.0,289.8 L277.5,299.6 L278.0,289.0 L278.5,300.7 L279.0,288.3 L279.5,300.2 L280.0,288.9 L280.5,298.9 L281.0,288.6 L281.5,298.6 L282.0,290.5 L282.5,300.0 L283.0,289.3 L283.5,299.9 L284.0,289.1 L284.5,298.3 L285.0,288.0 L285.5,300.1 L286.0,288.1 L286.5,298.6 L287.0,288.2 L287.5,298.7 L288.0,289.4 L288.5,299.2 L289.0,288.1 L289.5,298.2 L290.0,289.2 L290.5,299.4 L291.0,289.0 L291.5,298.6 L292.0,288.2 L292.5,300.0 L293.0,289.6 L293.5,298.4 L294.0,288.2 L294.5,297.9 L295.0,289.8 L295.5,299.5 L296.0,289.2 L296.5,298.0 L297.0,289.2 L297.5,298.5 L298.0,288.8 L298.5,298.7 L299.0,289.9 L299.5,299.1 L300.0,289.4 L300.5,298.9 L301.0,290.6 L301.5,297.6 L302.0,290.2 L302.5,298.4 L303.0,290.0 L303.5,297.7 L304.0,291.6 L304.5,299.6 L305.0,292.4 L305.5,299.1 L306.0,293.1 L306.5,299.6 L307.0,292.9 L307.5,301.0 L308.0,293.6 L308.5,302.0 L309.0,294.1 L309.5,301.2 L310.0,293.5 L310.5,302.0 L311.0,293.7 L311.5,302.7 L312.0,293.2 L312.5,302.3 L313.0,294.3 L313.5,302.6 L314.0,293.7 L314.5,300.6 L315.0,294.0 L315.5,300.7 L316.0,292.1 L316.5,300.7 L317.0,293.3 L317.5,300.9 L318.0,291.4 L318.5,299.8 L319.0,291.6 L319.5,298.9 L320.0,289.7 L320.5,298.9 L321.0,290.5 L321.5,298.0 L322.0,290.1 L322.5,298.2 L323.0,289.6 L323.5,298.0 L324.0,290.9 L324.5,298.0 L325.0,290.8 L325.5,297.6 L326.0,291.0 L326.5,298.7 L327.0,290.1 L327.5,297.4 L328.0,290.3 L328.5,297.3 L329.0,289.6 L329.5,297.0 L330.0,289.2 L330.5,296.9 L331.0,290.1 L331.5,296.7 L332.0,290.0 L332.5,298.4 L333.0,289.4 L333.5,296.9 L334.0,289.4 L334.5,298.6 L335.0,289.8 L335.5,298.3 L336.0,290.2 L336.5,297.7 L337.0,288.6 L337.5,297.2 L338.0,289.7 L338.5,298.9 L339.0,288.4 L339.5,299.4 L340.0,286.8 L340.5,299.0 L341.0,288.3 L341.5,298.5 L342.0,285.0 L342.5,301.6 L343.0,288.1 L343.5,299.6 L344.0,285.9 L344.5,300.3 L345.0,285.8 L345.5,299.1 L346.0,287.2 L346.5,301.9 L347.0,287.8 L347.5,299.0 L348.0,286.5 L348.5,300.2 L349.0,287.1 L349.5,300.1 L350.0,285.7 L350.5,298.9 L351.0,287.0 L351.5,299.5 L352.0,287.0 L352.5,299.4 L353.0,286.4 L353.5,301.8 L354.0,287.2 L354.5,300.0 L355.0,287.0 L355.5,299.4 L356.0,285.6 L356.5,299.0 L357.0,285.8 L357.5,299.8 L358.0,288.4 L358.5,301.2 L359.0,287.0 L359.5,298.9 L360.0,285.5 L360.5,299.3 L361.0,286.8 L361.5,301.3 L362.0,287.4 L362.5,301.2 L363.0,287.1 L363.5,299.1 L364.0,287.8 L364.5,300.6 L365.0,288.4 L365.5,301.9 L366.0,285.0 L366.5,299.9 L367.0,285.0 L367.5,299.5 L368.0,285.3 L368.5,301.3 L369.0,288.3 L369.5,300.8 L370.0,288.3 L370.5,302.1 L371.0,285.3 L371.5,302.0 L372.0,287.3 L372.5,298.7 L373.0,287.7 L373.5,300.6 L374.0,287.5 L374.5,300.7 L375.0,286.3 L375.5,301.2 L376.0,287.7 L376.5,299.5 L377.0,287.0 L377.5,300.2 L378.0,287.8 L378.5,300.4 L379.0,285.8 L379.5,299.4 L380.0,285.9 L380.5,301.5 L381.0,285.7 L381.5,299.7 L382.0,287.1 L382.5,300.1 L383.0,288.5 L383.5,300.9 L384.0,285.4 L384.5,299.3 L385.0,286.2 L385.5,300.5 L386.0,286.6 L386.5,301.4 L387.0,287.3 L387.5,300.7 L388.0,288.5 L388.5,299.3 L389.0,287.4 L389.5,302.0 L390.0,285.0 L390.5,299.4 L391.0,287.5 L391.5,299.4 L392.0,285.8 L392.5,301.6 L393.0,287.9 L393.5,301.5 L394.0,287.0 L394.5,299.7 L395.0,285.2 L395.5,299.0 L396.0,288.4 L396.5,300.9 L397.0,285.8 L397.5,299.2 L398.0,286.7 L398.5,299.5 L399.0,287.1 L399.5,301.2 L400.0,288.1 L400.5,300.9 L401.0,287.8 L401.5,300.4 L402.0,287.4 L402.5,299.4 L403.0,286.2 L403.5,299.1 L404.0,285.0 L404.5,300.8 L405.0,287.2 L405.5,301.9 L406.0,288.2 L406.5,299.1 L407.0,285.8 L407.5,301.5 L408.0,285.7 L408.5,299.8 L409.0,286.0 L409.5,302.2 L410.0,288.3 L410.5,299.7 L411.0,286.3 L411.5,300.3 L412.0,288.0 L412.5,301.5 L413.0,288.5 L413.5,301.9 L414.0,287.0 L414.5,301.1 L415.0,287.3 L415.5,299.7 L416.0,288.0 L416.5,302.2 L417.0,286.8 L417.5,299.5 L418.0,285.5 L418.5,299.4 L419.0,288.0 L419.5,301.9 L420.0,286.2 L420.5,301.7 L421.0,288.0 L421.5,301.8 L422.0,285.2 L422.5,299.6 L423.0,286.4 L423.5,301.2 L424.0,285.5 L424.5,302.0 L425.0,286.8 L425.5,302.2 L426.0,285.1 L426.5,300.9 L427.0,285.8 L427.5,299.7 L428.0,285.1 L428.5,299.1 L429.0,288.5 L429.5,301.5 L430.0,285.7 L430.5,299.5 L431.0,288.1 L431.5,299.0 L432.0,287.6 L432.5,300.4 L433.0,286.4 L433.5,299.3 L434.0,286.7 L434.5,302.0 L435.0,286.8 L435.5,299.0 L436.0,286.0 L436.5,299.4 L437.0,288.2 L437.5,302.0 L438.0,285.8 L438.5,299.4 L439.0,286.3 L439.5,302.3 L440.0,286.5 L440.5,300.6 L441.0,287.6 L441.5,301.9 L442.0,286.9 L442.5,301.7 L443.0,288.1 L443.5,299.1 L444.0,288.8 L444.5,299.2 L445.0,289.6 L445.5,298.8 L446.0,289.6 L446.5,300.6 L447.0,290.0 L447.5,298.5 L448.0,291.2 L448.5,298.3 L449.0,290.2 L449.5,298.6 L450.0,291.0 L450.5,297.9 L451.0,292.1 L451.5,299.1 L452.0,291.6 L452.5,298.7 L453.0,291.1 L453.5,297.1 L454.0,292.4 L454.5,297.2 L455.0,291.5 L455.5,298.4 L456.0,291.6 L456.5,297.1 L457.0,291.5 L457.5,297.8 L458.0,292.2 L458.5,298.0 L459.0,291.4 L459.5,297.0 L460.0,292.6 L460.5,297.2 L461.0,292.6 L461.5,297.2 L462.0,292.4 L462.5,298.7 L463.0,292.2 L463.5,298.3 L464.0,292.3 L464.5,298.6 L465.0,292.4 L465.5,298.2 L466.0,292.0 L466.5,297.2 L467.0,292.9 L467.5,298.4 L468.0,292.6 L468.5,297.1 L469.0,292.6 L469.5,298.4 L470.0,293.6 L470.5,297.6 L471.0,293.6 L471.5,297.0 L472.0,293.3 L472.5,297.0 L473.0,293.3 L473.5,296.8 L474.0,293.7 L474.5,296.0 L475.0,293.4 L475.5,295.9 L476.0,293.4 L476.5,296.0 L477.0,293.1 L477.5,295.9 L478.0,293.6 L478.5,296.5 L479.0,293.1 L479.5,296.0 L480.0,294.2 L480.5,296.6 L481.0,293.1 L481.5,296.4 L482.0,293.6 L482.5,296.4 L483.0,293.3 L483.5,296.9 L484.0,293.3 L484.5,296.3 L485.0,293.4 L485.5,296.2 L486.0,294.2 L486.5,296.9 L487.0,293.9 L487.5,296.3 L488.0,293.4 L488.5,296.4 L489.0,294.1 L489.5,296.4 L490.0,294.0 L490.5,296.9 L491.0,293.0 L491.5,296.9 L492.0,293.8 L492.5,296.7 L493.0,293.8 L493.5,296.6 L494.0,293.7 L494.5,296.6 L495.0,293.8 L495.5,296.3 L496.0,293.7 L496.5,295.9 L497.0,293.3 L497.5,296.8 L498.0,294.1 L498.5,296.3 L499.0,294.0 L499.5,296.9 L500.0,293.8 L500.5,296.2 L501.0,293.8 L501.5,296.2 L502.0,293.2 L502.5,297.0 L503.0,293.9 L503.5,296.4 L504.0,293.3 L504.5,296.7 L505.0,293.1 L505.5,296.1 L506.0,293.9 L506.5,296.1 L507.0,294.0 L507.5,296.3 L508.0,294.0 L508.5,295.9 L509.0,293.4 L509.5,296.1 L510.0,293.8 L510.5,296.3 L511.0,293.9 L511.5,296.1 L512.0,293.2 L512.5,296.9 L513.0,293.1 L513.5,296.7 L514.0,294.2 L514.5,296.4 L515.0,293.0 L515.5,297.0 L516.0,293.0 L516.5,296.9 L517.0,293.6 L517.5,296.3 L518.0,293.2 L518.5,296.1 L519.0,293.5 L519.5,296.4 L520.0,293.1 L520.5,296.2 L521.0,294.0 L521.5,295.9 L522.0,293.8 L522.5,296.5 L523.0,293.8 L523.5,296.2 L524.0,293.2 L524.5,296.6 L525.0,293.4 L525.5,297.0 L526.0,294.2 L526.5,296.3 L527.0,293.5 L527.5,296.8 L528.0,293.5 L528.5,296.8 L529.0,294.1 L529.5,296.5 L530.0,294.0 L530.5,297.0 L531.0,293.6 L531.5,296.8 L532.0,293.2 L532.5,296.4 L533.0,293.5 L533.5,296.1 L534.0,293.7 L534.5,297.0 L535.0,293.3 L535.5,296.9 L536.0,293.6 L536.5,296.6 L537.0,293.7 L537.5,296.3 L538.0,293.2 L538.5,296.2 L539.0,293.4 L539.5,296.8 L540.0,293.4 L540.5,296.7 L541.0,294.0 L541.5,297.1 L542.0,293.1 L542.5,296.4 L543.0,294.1 L543.5,296.3 L544.0,293.9 L544.5,296.2 L545.0,294.2 L545.5,296.7 L546.0,293.6 L546.5,295.9 L547.0,293.1 L547.5,296.2 L548.0,293.7 L548.5,296.6 L549.0,293.4 L549.5,296.3 L550.0,293.1 L550.5,296.5 L551.0,294.1 L551.5,297.0 L552.0,293.6 L552.5,296.6 L553.0,293.5 L553.5,296.8 L554.0,294.1 L554.5,297.0 L555.0,293.4 L555.5,295.9 L556.0,293.0 L556.5,296.2 L557.0,293.8 L557.5,296.6 L558.0,293.9 L558.5,297.0 L559.0,293.8 L559.5,296.3 L560.0,293.3 L560.5,296.5 L561.0,294.2 L561.5,296.9 L562.0,293.7 L562.5,296.7 L563.0,294.2 L563.5,296.9 L564.0,293.4 L564.5,297.0 L565.0,293.1 L565.5,296.7 L566.0,293.2 L566.5,295.9 L567.0,293.6 L567.5,296.0 L568.0,294.0 L568.5,296.8 L569.0,294.2 L569.5,296.5 L570.0,294.1 L570.5,296.1 L571.0,293.4 L571.5,296.2 L572.0,293.1 L572.5,296.7 L573.0,293.0 L573.5,296.7 L574.0,294.0 L574.5,296.8 L575.0,294.2 L575.5,296.7 L576.0,293.0 L576.5,296.7 L577.0,293.2 L577.5,296.1 L578.0,293.3 L578.5,296.4 L579.0,293.8 L579.5,296.7 L580.0,293.7 L580.5,296.4 L581.0,293.5 L581.5,295.9 L582.0,293.7 L582.5,295.9 L583.0,293.9 L583.5,296.8 L584.0,294.1 L584.5,296.7 L585.0,293.9 L585.5,296.3 L586.0,293.1 L586.5,296.2 L587.0,293.7 L587.5,296.4 L588.0,293.2 L588.5,297.0 L589.0,293.9 L589.5,296.3 L590.0,293.6 L590.5,296.1 L591.0,293.6 L591.5,297.0 L592.0,293.0 L592.5,296.9 L593.0,293.9 L593.5,296.5 L594.0,294.0 L594.5,296.2 L595.0,293.6 L595.5,297.0 L596.0,293.5 L596.5,296.1 L597.0,293.8 L597.5,297.0 L598.0,293.9 L598.5,296.9 L599.0,293.4 L599.5,297.0 L600.0,293.2 L600.5,296.9 L601.0,293.3 L601.5,296.6 L602.0,293.6 L602.5,296.0 L603.0,293.8 L603.5,297.0 L604.0,293.7 L604.5,296.6 L605.0,294.0 L605.5,296.3 L606.0,294.2 L606.5,296.6 L607.0,293.5 L607.5,296.1 L608.0,293.1 L608.5,296.8 L609.0,293.3 L609.5,296.2 L610.0,294.1 L610.5,296.3 L611.0,294.1 L611.5,297.0 L612.0,293.9 L612.5,296.4 L613.0,293.1 L613.5,297.0 L614.0,293.6 L614.5,296.2 L615.0,293.2 L615.5,296.1 L616.0,293.6 L616.5,297.0 L617.0,293.0 L617.5,296.2 L618.0,293.1 L618.5,296.3 L619.0,293.4 L619.5,296.5 L620.0,293.3 L620.5,297.0 L621.0,293.7 L621.5,296.3 L622.0,293.6 L622.5,296.7 L623.0,293.8 L623.5,296.8 L624.0,293.6 L624.5,297.0 L625.0,293.1 L625.5,296.2 L626.0,294.1 L626.5,297.1 L627.0,293.4 L627.5,296.6 L628.0,293.1 L628.5,297.0 L629.0,293.4 L629.5,296.3 L630.0,293.7 L630.5,296.0 L631.0,294.0 L631.5,296.7 L632.0,294.1 L632.5,295.9 L633.0,294.2 L633.5,296.6 L634.0,293.6 L634.5,296.3 L635.0,293.0 L635.5,296.2 L636.0,293.0 L636.5,295.9 L637.0,293.5 L637.5,296.0 L638.0,294.0 L638.5,296.9 L639.0,293.6 L639.5,296.7 L640.0,293.3 L640.5,296.0 L641.0,293.7 L641.5,297.0 L642.0,293.3 L642.5,296.2 L643.0,293.2 L643.5,296.4 L644.0,293.6 L644.5,296.0 L645.0,293.6 L645.5,296.9 L646.0,294.0 L646.5,296.7 L647.0,293.0 L647.5,296.0 L648.0,294.2 L648.5,296.4 L649.0,293.8 L649.5,296.0 L650.0,294.0 L650.5,295.9 L651.0,293.6 L651.5,296.4 L652.0,293.6 L652.5,296.0 L653.0,293.8 L653.5,296.9 L654.0,293.6 L654.5,297.0 L655.0,293.0 L655.5,296.3 L656.0,294.2 L656.5,296.4 L657.0,294.1 L657.5,297.1 L658.0,293.7 L658.5,296.6 L659.0,293.9 L659.5,295.9 L660.0,293.4 L660.5,296.6 L661.0,293.2 L661.5,296.9 L662.0,293.8 L662.5,296.3 L663.0,294.1 L663.5,296.8 L664.0,293.7 L664.5,296.0 L665.0,293.5 L665.5,296.4 L666.0,293.6 L666.5,297.1 L667.0,293.6 L667.5,296.6 L668.0,293.7 L668.5,296.4 L669.0,293.4 L669.5,296.5 L670.0,294.1 L670.5,295.9 L671.0,293.0 L671.5,296.8 L672.0,293.6 L672.5,296.1 L673.0,293.9 L673.5,296.3 L674.0,294.1 L674.5,296.2 L675.0,293.9 L675.5,297.0 L676.0,293.7 L676.5,296.3 L677.0,293.8 L677.5,296.7 L678.0,293.1 L678.5,296.0 L679.0,293.3 L679.5,296.7" stroke="#00ff66" stroke-width="1.6" fill="none" shape-rendering="crispEdges"/>
<path d="M159.0,302.8l3,3m0,-3l-3,3M160.5,302.3v4M158.5,304.3h4M160.0,302.6l3,3m0,-3l-3,3M161.5,302.1v4M159.5,304.1h4M160.0,305.8l3,3m0,-3l-3,3M161.5,305.3v4M159.5,307.3h4M161.0,302.9l3,3m0,-3l-3,3M162.5,302.4v4M160.5,304.4h4M161.0,281.5l3,3m0,-3l-3,3M162.5,281.0v4M160.5,283.0h4M162.0,300.9l3,3m0,-3l-3,3M163.5,300.4v4M161.5,302.4h4M162.0,281.0l3,3m0,-3l-3,3M163.5,280.5v4M161.5,282.5h4M164.0,302.6l3,3m0,-3l-3,3M165.5,302.1v4M163.5,304.1h4M165.0,305.3l3,3m0,-3l-3,3M166.5,304.8v4M164.5,306.8h4M166.0,280.9l3,3m0,-3l-3,3M167.5,280.4v4M165.5,282.4h4M167.0,282.8l3,3m0,-3l-3,3M168.5,282.3v4M166.5,284.3h4M168.0,301.1l3,3m0,-3l-3,3M169.5,300.6v4M167.5,302.6h4M171.0,306.6l3,3m0,-3l-3,3M172.5,306.1v4M170.5,308.1h4M171.0,282.0l3,3m0,-3l-3,3M172.5,281.5v4M170.5,283.5h4M172.0,284.7l3,3m0,-3l-3,3M173.5,284.2v4M171.5,286.2h4M173.0,304.6l3,3m0,-3l-3,3M174.5,304.1v4M172.5,306.1h4M174.0,300.9l3,3m0,-3l-3,3M175.5,300.4v4M173.5,302.4h4M175.0,308.0l3,3m0,-3l-3,3M176.5,307.5v4M174.5,309.5h4M176.0,284.2l3,3m0,-3l-3,3M177.5,283.7v4M175.5,285.7h4M179.0,284.3l3,3m0,-3l-3,3M180.5,283.8v4M178.5,285.8h4M180.0,301.4l3,3m0,-3l-3,3M181.5,300.9v4M179.5,302.9h4M182.0,281.1l3,3m0,-3l-3,3M183.5,280.6v4M181.5,282.6h4M184.0,284.4l3,3m0,-3l-3,3M185.5,283.9v4M183.5,285.9h4M186.0,302.8l3,3m0,-3l-3,3M187.5,302.3v4M185.5,304.3h4M186.0,301.6l3,3m0,-3l-3,3M187.5,301.1v4M185.5,303.1h4M187.0,285.3l3,3m0,-3l-3,3M188.5,284.8v4M186.5,286.8h4M187.0,302.2l3,3m0,-3l-3,3M188.5,301.7v4M186.5,303.7h4M188.0,285.3l3,3m0,-3l-3,3M189.5,284.8v4M187.5,286.8h4M189.0,301.5l3,3m0,-3l-3,3M190.5,301.0v4M188.5,303.0h4M190.0,279.9l3,3m0,-3l-3,3M191.5,279.4v4M189.5,281.4h4M191.0,285.4l3,3m0,-3l-3,3M192.5,284.9v4M190.5,286.9h4M192.0,302.5l3,3m0,-3l-3,3M193.5,302.0v4M191.5,304.0h4M194.0,300.5l3,3m0,-3l-3,3M195.5,300.0v4M193.5,302.0h4M195.0,285.5l3,3m0,-3l-3,3M196.5,285.0v4M194.5,287.0h4M196.0,285.2l3,3m0,-3l-3,3M197.5,284.7v4M195.5,286.7h4M196.0,285.0l3,3m0,-3l-3,3M197.5,284.5v4M195.5,286.5h4M197.0,301.4l3,3m0,-3l-3,3M198.5,300.9v4M196.5,302.9h4M199.0,284.3l3,3m0,-3l-3,3M200.5,283.8v4M198.5,285.8h4M201.0,285.0l3,3m0,-3l-3,3M202.5,284.5v4M200.5,286.5h4M202.0,304.3l3,3m0,-3l-3,3M203.5,303.8v4M201.5,305.8h4M202.0,278.5l3,3m0,-3l-3,3M203.5,278.0v4M201.5,280.0h4M203.0,304.7l3,3m0,-3l-3,3M204.5,304.2v4M202.5,306.2h4M204.0,302.8l3,3m0,-3l-3,3M205.5,302.3v4M203.5,304.3h4M204.0,285.1l3,3m0,-3l-3,3M205.5,284.6v4M203.5,286.6h4M205.0,284.9l3,3m0,-3l-3,3M206.5,284.4v4M204.5,286.4h4M207.0,284.6l3,3m0,-3l-3,3M208.5,284.1v4M206.5,286.1h4M208.0,303.3l3,3m0,-3l-3,3M209.5,302.8v4M207.5,304.8h4M209.0,285.1l3,3m0,-3l-3,3M210.5,284.6v4M208.5,286.6h4M209.0,284.4l3,3m0,-3l-3,3M210.5,283.9v4M208.5,285.9h4M210.0,305.1l3,3m0,-3l-3,3M211.5,304.6v4M209.5,306.6h4M210.0,302.1l3,3m0,-3l-3,3M211.5,301.6v4M209.5,303.6h4M211.0,283.0l3,3m0,-3l-3,3M212.5,282.5v4M210.5,284.5h4M213.0,311.7l3,3m0,-3l-3,3M214.5,311.2v4M212.5,313.2h4M214.0,303.4l3,3m0,-3l-3,3M215.5,302.9v4M213.5,304.9h4M217.0,303.5l3,3m0,-3l-3,3M218.5,303.0v4M216.5,305.0h4M218.0,283.5l3,3m0,-3l-3,3M219.5,283.0v4M217.5,285.0h4M221.0,302.0l3,3m0,-3l-3,3M222.5,301.5v4M220.5,303.5h4M222.0,301.9l3,3m0,-3l-3,3M223.5,301.4v4M221.5,303.4h4M223.0,283.0l3,3m0,-3l-3,3M224.5,282.5v4M222.5,284.5h4M224.0,283.0l3,3m0,-3l-3,3M225.5,282.5v4M223.5,284.5h4M224.0,306.6l3,3m0,-3l-3,3M225.5,306.1v4M223.5,308.1h4M225.0,302.1l3,3m0,-3l-3,3M226.5,301.6v4M224.5,303.6h4M226.0,280.4l3,3m0,-3l-3,3M227.5,279.9v4M225.5,281.9h4M227.0,284.2l3,3m0,-3l-3,3M228.5,283.7v4M226.5,285.7h4M228.0,304.2l3,3m0,-3l-3,3M229.5,303.7v4M227.5,305.7h4M228.0,284.6l3,3m0,-3l-3,3M229.5,284.1v4M227.5,286.1h4M231.0,283.7l3,3m0,-3l-3,3M232.5,283.2v4M230.5,285.2h4M233.0,302.8l3,3m0,-3l-3,3M234.5,302.3v4M232.5,304.3h4M234.0,301.4l3,3m0,-3l-3,3M235.5,300.9v4M233.5,302.9h4M235.0,283.2l3,3m0,-3l-3,3M236.5,282.7v4M234.5,284.7h4M236.0,280.7l3,3m0,-3l-3,3M237.5,280.2v4M235.5,282.2h4M237.0,284.8l3,3m0,-3l-3,3M238.5,284.3v4M236.5,286.3h4M238.0,283.2l3,3m0,-3l-3,3M239.5,282.7v4M237.5,284.7h4M238.0,301.9l3,3m0,-3l-3,3M239.5,301.4v4M237.5,303.4h4M239.0,284.2l3,3m0,-3l-3,3M240.5,283.7v4M238.5,285.7h4M245.0,301.0l3,3m0,-3l-3,3M246.5,300.5v4M244.5,302.5h4M246.0,283.8l3,3m0,-3l-3,3M247.5,283.3v4M245.5,285.3h4M247.0,300.6l3,3m0,-3l-3,3M248.5,300.1v4M246.5,302.1h4M247.0,303.3l3,3m0,-3l-3,3M248.5,302.8v4M246.5,304.8h4M248.0,301.7l3,3m0,-3l-3,3M249.5,301.2v4M247.5,303.2h4M249.0,300.5l3,3m0,-3l-3,3M250.5,300.0v4M248.5,302.0h4M251.0,286.8l3,3m0,-3l-3,3M252.5,286.3v4M250.5,288.3h4M252.0,287.2l3,3m0,-3l-3,3M253.5,286.7v4M251.5,288.7h4M252.0,303.0l3,3m0,-3l-3,3M253.5,302.5v4M251.5,304.5h4M255.0,301.2l3,3m0,-3l-3,3M256.5,300.7v4M254.5,302.7h4M256.0,304.9l3,3m0,-3l-3,3M257.5,304.4v4M255.5,306.4h4M256.0,301.0l3,3m0,-3l-3,3M257.5,300.5v4M255.5,302.5h4M258.0,301.3l3,3m0,-3l-3,3M259.5,300.8v4M257.5,302.8h4M259.0,307.0l3,3m0,-3l-3,3M260.5,306.5v4M258.5,308.5h4M260.0,286.7l3,3m0,-3l-3,3M261.5,286.2v4M259.5,288.2h4M261.0,301.8l3,3m0,-3l-3,3M262.5,301.3v4M260.5,303.3h4M262.0,282.8l3,3m0,-3l-3,3M263.5,282.3v4M261.5,284.3h4M263.0,283.0l3,3m0,-3l-3,3M264.5,282.5v4M262.5,284.5h4M264.0,301.8l3,3m0,-3l-3,3M265.5,301.3v4M263.5,303.3h4M265.0,285.5l3,3m0,-3l-3,3M266.5,285.0v4M264.5,287.0h4M266.0,285.9l3,3m0,-3l-3,3M267.5,285.4v4M265.5,287.4h4M268.0,286.2l3,3m0,-3l-3,3M269.5,285.7v4M267.5,287.7h4M268.0,286.4l3,3m0,-3l-3,3M269.5,285.9v4M267.5,287.9h4M269.0,286.4l3,3m0,-3l-3,3M270.5,285.9v4M268.5,287.9h4M269.0,300.9l3,3m0,-3l-3,3M270.5,300.4v4M268.5,302.4h4M271.0,298.9l3,3m0,-3l-3,3M272.5,298.4v4M270.5,300.4h4M271.0,286.1l3,3m0,-3l-3,3M272.5,285.6v4M270.5,287.6h4M272.0,284.4l3,3m0,-3l-3,3M273.5,283.9v4M271.5,285.9h4M272.0,299.3l3,3m0,-3l-3,3M273.5,298.8v4M271.5,300.8h4M274.0,300.9l3,3m0,-3l-3,3M275.5,300.4v4M273.5,302.4h4M274.0,299.7l3,3m0,-3l-3,3M275.5,299.2v4M273.5,301.2h4M275.0,299.0l3,3m0,-3l-3,3M276.5,298.5v4M274.5,300.5h4M276.0,301.3l3,3m0,-3l-3,3M277.5,300.8v4M275.5,302.8h4M277.0,299.9l3,3m0,-3l-3,3M278.5,299.4v4M276.5,301.4h4M277.0,286.5l3,3m0,-3l-3,3M278.5,286.0v4M276.5,288.0h4M278.0,282.7l3,3m0,-3l-3,3M279.5,282.2v4M277.5,284.2h4M278.0,299.4l3,3m0,-3l-3,3M279.5,298.9v4M277.5,300.9h4M279.0,299.1l3,3m0,-3l-3,3M280.5,298.6v4M278.5,300.6h4M283.0,299.0l3,3m0,-3l-3,3M284.5,298.5v4M282.5,300.5h4M284.0,285.7l3,3m0,-3l-3,3M285.5,285.2v4M283.5,287.2h4M285.0,298.8l3,3m0,-3l-3,3M286.5,298.3v4M284.5,300.3h4M288.0,298.7l3,3m0,-3l-3,3M289.5,298.2v4M287.5,300.2h4M288.0,301.0l3,3m0,-3l-3,3M289.5,300.5v4M287.5,302.5h4M289.0,298.8l3,3m0,-3l-3,3M290.5,298.3v4M288.5,300.3h4M293.0,299.1l3,3m0,-3l-3,3M294.5,298.6v4M292.5,300.6h4M294.0,301.2l3,3m0,-3l-3,3M295.5,300.7v4M293.5,302.7h4M295.0,298.6l3,3m0,-3l-3,3M296.5,298.1v4M294.5,300.1h4M296.0,286.7l3,3m0,-3l-3,3M297.5,286.2v4M295.5,288.2h4M297.0,285.5l3,3m0,-3l-3,3M298.5,285.0v4M296.5,287.0h4M298.0,285.3l3,3m0,-3l-3,3M299.5,284.8v4M297.5,286.8h4M299.0,286.7l3,3m0,-3l-3,3M300.5,286.2v4M298.5,288.2h4M299.0,283.1l3,3m0,-3l-3,3M300.5,282.6v4M298.5,284.6h4M300.0,298.8l3,3m0,-3l-3,3M301.5,298.3v4M299.5,300.3h4M302.0,287.8l3,3m0,-3l-3,3M303.5,287.3v4M301.5,289.3h4M306.0,300.3l3,3m0,-3l-3,3M307.5,299.8v4M305.5,301.8h4M308.0,302.0l3,3m0,-3l-3,3M309.5,301.5v4M307.5,303.5h4M309.0,291.0l3,3m0,-3l-3,3M310.5,290.5v4M308.5,292.5h4M310.0,291.2l3,3m0,-3l-3,3M311.5,290.7v4M309.5,292.7h4M313.0,302.2l3,3m0,-3l-3,3M314.5,301.7v4M312.5,303.7h4M313.0,303.9l3,3m0,-3l-3,3M314.5,303.4v4M312.5,305.4h4M315.0,290.0l3,3m0,-3l-3,3M316.5,289.5v4M314.5,291.5h4M316.0,300.0l3,3m0,-3l-3,3M317.5,299.5v4M315.5,301.5h4M316.0,290.1l3,3m0,-3l-3,3M317.5,289.6v4M315.5,291.6h4M318.0,287.4l3,3m0,-3l-3,3M319.5,286.9v4M317.5,288.9h4M320.0,297.5l3,3m0,-3l-3,3M321.5,297.0v4M319.5,299.0h4M320.0,297.2l3,3m0,-3l-3,3M321.5,296.7v4M319.5,298.7h4M321.0,298.9l3,3m0,-3l-3,3M322.5,298.4v4M320.5,300.4h4M322.0,285.1l3,3m0,-3l-3,3M323.5,284.6v4M321.5,286.6h4M324.0,298.5l3,3m0,-3l-3,3M325.5,298.0v4M323.5,300.0h4M324.0,287.6l3,3m0,-3l-3,3M325.5,287.1v4M323.5,289.1h4M326.0,300.4l3,3m0,-3l-3,3M327.5,299.9v4M325.5,301.9h4M326.0,301.0l3,3m0,-3l-3,3M327.5,300.5v4M325.5,302.5h4M327.0,297.1l3,3m0,-3l-3,3M328.5,296.6v4M326.5,298.6h4M327.0,297.0l3,3m0,-3l-3,3M328.5,296.5v4M326.5,298.5h4M328.0,297.1l3,3m0,-3l-3,3M329.5,296.6v4M327.5,298.6h4M329.0,297.2l3,3m0,-3l-3,3M330.5,296.7v4M328.5,298.7h4M330.0,300.3l3,3m0,-3l-3,3M331.5,299.8v4M329.5,301.8h4M330.0,286.5l3,3m0,-3l-3,3M331.5,286.0v4M329.5,288.0h4M331.0,286.9l3,3m0,-3l-3,3M332.5,286.4v4M330.5,288.4h4M332.0,285.1l3,3m0,-3l-3,3M333.5,284.6v4M331.5,286.6h4M333.0,297.6l3,3m0,-3l-3,3M334.5,297.1v4M332.5,299.1h4M334.0,297.0l3,3m0,-3l-3,3M335.5,296.5v4M333.5,298.5h4M334.0,287.1l3,3m0,-3l-3,3M335.5,286.6v4M333.5,288.6h4M336.0,287.3l3,3m0,-3l-3,3M337.5,286.8v4M335.5,288.8h4M337.0,283.8l3,3m0,-3l-3,3M338.5,283.3v4M336.5,285.3h4M337.0,286.4l3,3m0,-3l-3,3M338.5,285.9v4M336.5,287.9h4M338.0,298.7l3,3m0,-3l-3,3M339.5,298.2v4M337.5,300.2h4M339.0,285.4l3,3m0,-3l-3,3M340.5,284.9v4M338.5,286.9h4M341.0,283.8l3,3m0,-3l-3,3M342.5,283.3v4M340.5,285.3h4M343.0,300.5l3,3m0,-3l-3,3M344.5,300.0v4M342.5,302.0h4M345.0,303.9l3,3m0,-3l-3,3M346.5,303.4v4M344.5,305.4h4M348.0,304.0l3,3m0,-3l-3,3M349.5,303.5v4M347.5,305.5h4M349.0,283.8l3,3m0,-3l-3,3M350.5,283.3v4M348.5,285.3h4M351.0,303.9l3,3m0,-3l-3,3M352.5,303.4v4M350.5,305.4h4M354.0,302.5l3,3m0,-3l-3,3M355.5,302.0v4M353.5,304.0h4M356.0,284.0l3,3m0,-3l-3,3M357.5,283.5v4M355.5,285.5h4M360.0,281.0l3,3m0,-3l-3,3M361.5,280.5v4M359.5,282.5h4M362.0,278.8l3,3m0,-3l-3,3M363.5,278.3v4M361.5,280.3h4M362.0,283.0l3,3m0,-3l-3,3M363.5,282.5v4M361.5,284.5h4M363.0,283.4l3,3m0,-3l-3,3M364.5,282.9v4M362.5,284.9h4M363.0,282.4l3,3m0,-3l-3,3M364.5,281.9v4M362.5,283.9h4M365.0,283.5l3,3m0,-3l-3,3M366.5,283.0v4M364.5,285.0h4M365.0,301.7l3,3m0,-3l-3,3M366.5,301.2v4M364.5,303.2h4M366.0,301.0l3,3m0,-3l-3,3M367.5,300.5v4M365.5,302.5h4M367.0,282.6l3,3m0,-3l-3,3M368.5,282.1v4M366.5,284.1h4M367.0,303.8l3,3m0,-3l-3,3M368.5,303.3v4M366.5,305.3h4M368.0,279.6l3,3m0,-3l-3,3M369.5,279.1v4M367.5,281.1h4M368.0,282.9l3,3m0,-3l-3,3M369.5,282.4v4M367.5,284.4h4M369.0,283.6l3,3m0,-3l-3,3M370.5,283.1v4M368.5,285.1h4M370.0,302.7l3,3m0,-3l-3,3M371.5,302.2v4M369.5,304.2h4M371.0,303.1l3,3m0,-3l-3,3M372.5,302.6v4M370.5,304.6h4M373.0,283.7l3,3m0,-3l-3,3M374.5,283.2v4M372.5,285.2h4M374.0,301.8l3,3m0,-3l-3,3M375.5,301.3v4M373.5,303.3h4M375.0,300.2l3,3m0,-3l-3,3M376.5,299.7v4M374.5,301.7h4M375.0,303.5l3,3m0,-3l-3,3M376.5,303.0v4M374.5,305.0h4M376.0,283.4l3,3m0,-3l-3,3M377.5,282.9v4M375.5,284.9h4M377.0,300.8l3,3m0,-3l-3,3M378.5,300.3v4M376.5,302.3h4M378.0,300.2l3,3m0,-3l-3,3M379.5,299.7v4M377.5,301.7h4M379.0,300.9l3,3m0,-3l-3,3M380.5,300.4v4M378.5,302.4h4M380.0,301.9l3,3m0,-3l-3,3M381.5,301.4v4M379.5,303.4h4M382.0,283.5l3,3m0,-3l-3,3M383.5,283.0v4M381.5,285.0h4M383.0,282.0l3,3m0,-3l-3,3M384.5,281.5v4M382.5,283.5h4M383.0,283.1l3,3m0,-3l-3,3M384.5,282.6v4M382.5,284.6h4M387.0,283.9l3,3m0,-3l-3,3M388.5,283.4v4M386.5,285.4h4M388.0,282.8l3,3m0,-3l-3,3M389.5,282.3v4M387.5,284.3h4M390.0,283.5l3,3m0,-3l-3,3M391.5,283.0v4M389.5,285.0h4M390.0,283.2l3,3m0,-3l-3,3M391.5,282.7v4M389.5,284.7h4M391.0,302.5l3,3m0,-3l-3,3M392.5,302.0v4M390.5,304.0h4M392.0,303.6l3,3m0,-3l-3,3M393.5,303.1v4M391.5,305.1h4M393.0,283.8l3,3m0,-3l-3,3M394.5,283.3v4M392.5,285.3h4M396.0,301.8l3,3m0,-3l-3,3M397.5,301.3v4M395.5,303.3h4M397.0,301.8l3,3m0,-3l-3,3M398.5,301.3v4M396.5,303.3h4M400.0,282.2l3,3m0,-3l-3,3M401.5,281.7v4M399.5,283.7h4M401.0,302.5l3,3m0,-3l-3,3M402.5,302.0v4M400.5,304.0h4M402.0,283.6l3,3m0,-3l-3,3M403.5,283.1v4M401.5,285.1h4M402.0,301.5l3,3m0,-3l-3,3M403.5,301.0v4M401.5,303.0h4M403.0,281.2l3,3m0,-3l-3,3M404.5,280.7v4M402.5,282.7h4M404.0,302.1l3,3m0,-3l-3,3M405.5,301.6v4M403.5,303.6h4M405.0,303.5l3,3m0,-3l-3,3M406.5,303.0v4M404.5,305.0h4M405.0,278.4l3,3m0,-3l-3,3M406.5,277.9v4M404.5,279.9h4M406.0,280.7l3,3m0,-3l-3,3M407.5,280.2v4M405.5,282.2h4M407.0,301.1l3,3m0,-3l-3,3M408.5,300.6v4M406.5,302.6h4M407.0,300.8l3,3m0,-3l-3,3M408.5,300.3v4M406.5,302.3h4M409.0,277.5l3,3m0,-3l-3,3M410.5,277.0v4M408.5,279.0h4M410.0,302.2l3,3m0,-3l-3,3M411.5,301.7v4M409.5,303.7h4M411.0,300.5l3,3m0,-3l-3,3M412.5,300.0v4M410.5,302.0h4M412.0,300.4l3,3m0,-3l-3,3M413.5,299.9v4M411.5,301.9h4M413.0,283.9l3,3m0,-3l-3,3M414.5,283.4v4M412.5,285.4h4M413.0,280.9l3,3m0,-3l-3,3M414.5,280.4v4M412.5,282.4h4M414.0,282.3l3,3m0,-3l-3,3M415.5,281.8v4M413.5,283.8h4M416.0,302.8l3,3m0,-3l-3,3M417.5,302.3v4M415.5,304.3h4M417.0,281.5l3,3m0,-3l-3,3M418.5,281.0v4M416.5,283.0h4M419.0,301.0l3,3m0,-3l-3,3M420.5,300.5v4M418.5,302.5h4M422.0,283.4l3,3m0,-3l-3,3M423.5,282.9v4M421.5,284.9h4M425.0,278.8l3,3m0,-3l-3,3M426.5,278.3v4M424.5,280.3h4M425.0,302.8l3,3m0,-3l-3,3M426.5,302.3v4M424.5,304.3h4M426.0,301.1l3,3m0,-3l-3,3M427.5,300.6v4M425.5,302.6h4M427.0,281.9l3,3m0,-3l-3,3M428.5,281.4v4M426.5,283.4h4M428.0,283.3l3,3m0,-3l-3,3M429.5,282.8v4M427.5,284.8h4M428.0,281.7l3,3m0,-3l-3,3M429.5,281.2v4M427.5,283.2h4M430.0,283.2l3,3m0,-3l-3,3M431.5,282.7v4M429.5,284.7h4M431.0,279.8l3,3m0,-3l-3,3M432.5,279.3v4M430.5,281.3h4M432.0,302.7l3,3m0,-3l-3,3M433.5,302.2v4M431.5,304.2h4M433.0,304.5l3,3m0,-3l-3,3M434.5,304.0v4M432.5,306.0h4M434.0,280.0l3,3m0,-3l-3,3M435.5,279.5v4M433.5,281.5h4M439.0,283.9l3,3m0,-3l-3,3M440.5,283.4v4M438.5,285.4h4M439.0,283.9l3,3m0,-3l-3,3M440.5,283.4v4M438.5,285.4h4M440.0,284.2l3,3m0,-3l-3,3M441.5,283.7v4M439.5,285.7h4M441.0,300.5l3,3m0,-3l-3,3M442.5,300.0v4M440.5,302.0h4M441.0,283.7l3,3m0,-3l-3,3M442.5,283.2v4M440.5,285.2h4M443.0,285.8l3,3m0,-3l-3,3M444.5,285.3v4M442.5,287.3h4M444.0,282.5l3,3m0,-3l-3,3M445.5,282.0v4M443.5,284.0h4M444.0,299.5l3,3m0,-3l-3,3M445.5,299.0v4M443.5,301.0h4M445.0,304.1l3,3m0,-3l-3,3M446.5,303.6v4M444.5,305.6h4M445.0,301.0l3,3m0,-3l-3,3M446.5,300.5v4M444.5,302.5h4M447.0,298.9l3,3m0,-3l-3,3M448.5,298.4v4M446.5,300.4h4M447.0,287.6l3,3m0,-3l-3,3M448.5,287.1v4M446.5,289.1h4M448.0,288.0l3,3m0,-3l-3,3M449.5,287.5v4M447.5,289.5h4M449.0,288.5l3,3m0,-3l-3,3M450.5,288.0v4M448.5,290.0h4M450.0,298.3l3,3m0,-3l-3,3M451.5,297.8v4M449.5,299.8h4M452.0,289.8l3,3m0,-3l-3,3M453.5,289.3v4M451.5,291.3h4M454.0,297.2l3,3m0,-3l-3,3M455.5,296.7v4M453.5,298.7h4M456.0,289.6l3,3m0,-3l-3,3M457.5,289.1v4M455.5,291.1h4M456.0,289.9l3,3m0,-3l-3,3M457.5,289.4v4M455.5,291.4h4M457.0,297.5l3,3m0,-3l-3,3M458.5,297.0v4M456.5,299.0h4M460.0,290.4l3,3m0,-3l-3,3M461.5,289.9v4M459.5,291.9h4M461.0,296.7l3,3m0,-3l-3,3M462.5,296.2v4M460.5,298.2h4M463.0,290.5l3,3m0,-3l-3,3M464.5,290.0v4M462.5,292.0h4M463.0,290.3l3,3m0,-3l-3,3M464.5,289.8v4M462.5,291.8h4M464.0,290.3l3,3m0,-3l-3,3M465.5,289.8v4M463.5,291.8h4M466.0,297.2l3,3m0,-3l-3,3M467.5,296.7v4M465.5,298.7h4M468.0,290.8l3,3m0,-3l-3,3M469.5,290.3v4M467.5,292.3h4M469.0,297.9l3,3m0,-3l-3,3M470.5,297.4v4M468.5,299.4h4M470.0,295.5l3,3m0,-3l-3,3M471.5,295.0v4M469.5,297.0h4M471.0,295.5l3,3m0,-3l-3,3M472.5,295.0v4M470.5,297.0h4M472.0,291.3l3,3m0,-3l-3,3M473.5,290.8v4M471.5,292.8h4M474.0,291.9l3,3m0,-3l-3,3M475.5,291.4v4M473.5,293.4h4M474.0,291.7l3,3m0,-3l-3,3M475.5,291.2v4M473.5,293.2h4M477.0,295.3l3,3m0,-3l-3,3M478.5,294.8v4M476.5,296.8h4M478.0,295.2l3,3m0,-3l-3,3M479.5,294.7v4M477.5,296.7h4M478.0,295.3l3,3m0,-3l-3,3M479.5,294.8v4M477.5,296.8h4M479.0,291.7l3,3m0,-3l-3,3M480.5,291.2v4M478.5,293.2h4M479.0,295.3l3,3m0,-3l-3,3M480.5,294.8v4M478.5,296.8h4M480.0,291.9l3,3m0,-3l-3,3M481.5,291.4v4M479.5,293.4h4M481.0,295.4l3,3m0,-3l-3,3M482.5,294.9v4M480.5,296.9h4M482.0,291.9l3,3m0,-3l-3,3M483.5,291.4v4M481.5,293.4h4M483.0,292.0l3,3m0,-3l-3,3M484.5,291.5v4M482.5,293.5h4M485.0,291.5l3,3m0,-3l-3,3M486.5,291.0v4M484.5,293.0h4M487.0,295.2l3,3m0,-3l-3,3M488.5,294.7v4M486.5,296.7h4M489.0,290.8l3,3m0,-3l-3,3M490.5,290.3v4M488.5,292.3h4M489.0,290.8l3,3m0,-3l-3,3M490.5,290.3v4M488.5,292.3h4M490.0,295.3l3,3m0,-3l-3,3M491.5,294.8v4M489.5,296.8h4M490.0,291.4l3,3m0,-3l-3,3M491.5,290.9v4M489.5,292.9h4M493.0,295.2l3,3m0,-3l-3,3M494.5,294.7v4M492.5,296.7h4M494.0,290.9l3,3m0,-3l-3,3M495.5,290.4v4M493.5,292.4h4M494.0,295.2l3,3m0,-3l-3,3M495.5,294.7v4M493.5,296.7h4M495.0,292.0l3,3m0,-3l-3,3M496.5,291.5v4M494.5,293.5h4M496.0,295.6l3,3m0,-3l-3,3M497.5,295.1v4M495.5,297.1h4M501.0,291.3l3,3m0,-3l-3,3M502.5,290.8v4M500.5,292.8h4M502.0,295.1l3,3m0,-3l-3,3M503.5,294.6v4M501.5,296.6h4M503.0,295.7l3,3m0,-3l-3,3M504.5,295.2v4M502.5,297.2h4M506.0,291.5l3,3m0,-3l-3,3M507.5,291.0v4M505.5,293.0h4M506.0,292.0l3,3m0,-3l-3,3M507.5,291.5v4M505.5,293.5h4M507.0,291.8l3,3m0,-3l-3,3M508.5,291.3v4M506.5,293.3h4M509.0,291.7l3,3m0,-3l-3,3M510.5,291.2v4M508.5,293.2h4M509.0,295.4l3,3m0,-3l-3,3M510.5,294.9v4M508.5,296.9h4M510.0,292.0l3,3m0,-3l-3,3M511.5,291.5v4M509.5,293.5h4M511.0,296.3l3,3m0,-3l-3,3M512.5,295.8v4M510.5,297.8h4M512.0,295.9l3,3m0,-3l-3,3M513.5,295.4v4M511.5,297.4h4M513.0,291.5l3,3m0,-3l-3,3M514.5,291.0v4M512.5,293.0h4M517.0,295.8l3,3m0,-3l-3,3M518.5,295.3v4M516.5,297.3h4M518.0,295.4l3,3m0,-3l-3,3M519.5,294.9v4M517.5,296.9h4M519.0,292.0l3,3m0,-3l-3,3M520.5,291.5v4M518.5,293.5h4M521.0,295.2l3,3m0,-3l-3,3M522.5,294.7v4M520.5,296.7h4M521.0,291.6l3,3m0,-3l-3,3M522.5,291.1v4M520.5,293.1h4M522.0,296.5l3,3m0,-3l-3,3M523.5,296.0v4M521.5,298.0h4M522.0,295.8l3,3m0,-3l-3,3M523.5,295.3v4M521.5,297.3h4M523.0,290.2l3,3m0,-3l-3,3M524.5,289.7v4M522.5,291.7h4M524.0,289.6l3,3m0,-3l-3,3M525.5,289.1v4M523.5,291.1h4M525.0,291.8l3,3m0,-3l-3,3M526.5,291.3v4M524.5,293.3h4M526.0,296.0l3,3m0,-3l-3,3M527.5,295.5v4M525.5,297.5h4M526.0,291.7l3,3m0,-3l-3,3M527.5,291.2v4M525.5,293.2h4M527.0,290.2l3,3m0,-3l-3,3M528.5,289.7v4M526.5,291.7h4M528.0,291.5l3,3m0,-3l-3,3M529.5,291.0v4M527.5,293.0h4M534.0,295.9l3,3m0,-3l-3,3M535.5,295.4v4M533.5,297.4h4M535.0,295.5l3,3m0,-3l-3,3M536.5,295.0v4M534.5,297.0h4M535.0,291.8l3,3m0,-3l-3,3M536.5,291.3v4M534.5,293.3h4M538.0,295.4l3,3m0,-3l-3,3M539.5,294.9v4M537.5,296.9h4M542.0,295.9l3,3m0,-3l-3,3M543.5,295.4v4M541.5,297.4h4M545.0,295.6l3,3m0,-3l-3,3M546.5,295.1v4M544.5,297.1h4M547.0,296.1l3,3m0,-3l-3,3M548.5,295.6v4M546.5,297.6h4M547.0,292.0l3,3m0,-3l-3,3M548.5,291.5v4M546.5,293.5h4M549.0,291.8l3,3m0,-3l-3,3M550.5,291.3v4M548.5,293.3h4M549.0,296.1l3,3m0,-3l-3,3M550.5,295.6v4M548.5,297.6h4M550.0,291.7l3,3m0,-3l-3,3M551.5,291.2v4M549.5,293.2h4M550.0,290.8l3,3m0,-3l-3,3M551.5,290.3v4M549.5,292.3h4M551.0,295.8l3,3m0,-3l-3,3M552.5,295.3v4M550.5,297.3h4M552.0,291.8l3,3m0,-3l-3,3M553.5,291.3v4M551.5,293.3h4M554.0,291.6l3,3m0,-3l-3,3M555.5,291.1v4M553.5,293.1h4M555.0,291.5l3,3m0,-3l-3,3M556.5,291.0v4M554.5,293.0h4M555.0,295.3l3,3m0,-3l-3,3M556.5,294.8v4M554.5,296.8h4M556.0,291.6l3,3m0,-3l-3,3M557.5,291.1v4M555.5,293.1h4M557.0,290.0l3,3m0,-3l-3,3M558.5,289.5v4M556.5,291.5h4M559.0,291.9l3,3m0,-3l-3,3M560.5,291.4v4M558.5,293.4h4M560.0,291.9l3,3m0,-3l-3,3M561.5,291.4v4M559.5,293.4h4M560.0,292.0l3,3m0,-3l-3,3M561.5,291.5v4M559.5,293.5h4M563.0,291.0l3,3m0,-3l-3,3M564.5,290.5v4M562.5,292.5h4M564.0,295.1l3,3m0,-3l-3,3M565.5,294.6v4M563.5,296.6h4M567.0,295.3l3,3m0,-3l-3,3M568.5,294.8v4M566.5,296.8h4M568.0,295.6l3,3m0,-3l-3,3M569.5,295.1v4M567.5,297.1h4M571.0,291.5l3,3m0,-3l-3,3M572.5,291.0v4M570.5,293.0h4M571.0,295.6l3,3m0,-3l-3,3M572.5,295.1v4M570.5,297.1h4M572.0,291.4l3,3m0,-3l-3,3M573.5,290.9v4M571.5,292.9h4M573.0,291.1l3,3m0,-3l-3,3M574.5,290.6v4M572.5,292.6h4M574.0,295.5l3,3m0,-3l-3,3M575.5,295.0v4M573.5,297.0h4M576.0,295.7l3,3m0,-3l-3,3M577.5,295.2v4M575.5,297.2h4M577.0,296.8l3,3m0,-3l-3,3M578.5,296.3v4M576.5,298.3h4M580.0,295.7l3,3m0,-3l-3,3M581.5,295.2v4M579.5,297.2h4M580.0,291.0l3,3m0,-3l-3,3M581.5,290.5v4M579.5,292.5h4M581.0,295.9l3,3m0,-3l-3,3M582.5,295.4v4M580.5,297.4h4M583.0,291.8l3,3m0,-3l-3,3M584.5,291.3v4M582.5,293.3h4M585.0,290.5l3,3m0,-3l-3,3M586.5,290.0v4M584.5,292.0h4M586.0,291.3l3,3m0,-3l-3,3M587.5,290.8v4M585.5,292.8h4M587.0,295.2l3,3m0,-3l-3,3M588.5,294.7v4M586.5,296.7h4M588.0,296.1l3,3m0,-3l-3,3M589.5,295.6v4M587.5,297.6h4M589.0,295.3l3,3m0,-3l-3,3M590.5,294.8v4M588.5,296.8h4M592.0,291.6l3,3m0,-3l-3,3M593.5,291.1v4M591.5,293.1h4M593.0,291.7l3,3m0,-3l-3,3M594.5,291.2v4M592.5,293.2h4M594.0,291.8l3,3m0,-3l-3,3M595.5,291.3v4M593.5,293.3h4M596.0,295.3l3,3m0,-3l-3,3M597.5,294.8v4M595.5,296.8h4M597.0,295.4l3,3m0,-3l-3,3M598.5,294.9v4M596.5,296.9h4M599.0,291.5l3,3m0,-3l-3,3M600.5,291.0v4M598.5,293.0h4M600.0,291.2l3,3m0,-3l-3,3M601.5,290.7v4M599.5,292.7h4M601.0,290.8l3,3m0,-3l-3,3M602.5,290.3v4M600.5,292.3h4M602.0,289.1l3,3m0,-3l-3,3M603.5,288.6v4M601.5,290.6h4M603.0,291.4l3,3m0,-3l-3,3M604.5,290.9v4M602.5,292.9h4M604.0,295.3l3,3m0,-3l-3,3M605.5,294.8v4M603.5,296.8h4M604.0,295.1l3,3m0,-3l-3,3M605.5,294.6v4M603.5,296.6h4M605.0,296.7l3,3m0,-3l-3,3M606.5,296.2v4M604.5,298.2h4M606.0,296.2l3,3m0,-3l-3,3M607.5,295.7v4M605.5,297.7h4M607.0,296.2l3,3m0,-3l-3,3M608.5,295.7v4M606.5,297.7h4M607.0,291.9l3,3m0,-3l-3,3M608.5,291.4v4M606.5,293.4h4M608.0,295.5l3,3m0,-3l-3,3M609.5,295.0v4M607.5,297.0h4M611.0,291.6l3,3m0,-3l-3,3M612.5,291.1v4M610.5,293.1h4M611.0,296.1l3,3m0,-3l-3,3M612.5,295.6v4M610.5,297.6h4M612.0,290.4l3,3m0,-3l-3,3M613.5,289.9v4M611.5,291.9h4M613.0,291.9l3,3m0,-3l-3,3M614.5,291.4v4M612.5,293.4h4M613.0,292.0l3,3m0,-3l-3,3M614.5,291.5v4M612.5,293.5h4M614.0,295.5l3,3m0,-3l-3,3M615.5,295.0v4M613.5,297.0h4M614.0,291.0l3,3m0,-3l-3,3M615.5,290.5v4M613.5,292.5h4M615.0,295.2l3,3m0,-3l-3,3M616.5,294.7v4M614.5,296.7h4M615.0,291.9l3,3m0,-3l-3,3M616.5,291.4v4M614.5,293.4h4M616.0,297.2l3,3m0,-3l-3,3M617.5,296.7v4M615.5,298.7h4M617.0,291.7l3,3m0,-3l-3,3M618.5,291.2v4M616.5,293.2h4M618.0,295.6l3,3m0,-3l-3,3M619.5,295.1v4M617.5,297.1h4M618.0,295.2l3,3m0,-3l-3,3M619.5,294.7v4M617.5,296.7h4M620.0,291.6l3,3m0,-3l-3,3M621.5,291.1v4M619.5,293.1h4M621.0,291.7l3,3m0,-3l-3,3M622.5,291.2v4M620.5,293.2h4M623.0,295.2l3,3m0,-3l-3,3M624.5,294.7v4M622.5,296.7h4M625.0,291.5l3,3m0,-3l-3,3M626.5,291.0v4M624.5,293.0h4M627.0,291.3l3,3m0,-3l-3,3M628.5,290.8v4M626.5,292.8h4M628.0,295.8l3,3m0,-3l-3,3M629.5,295.3v4M627.5,297.3h4M629.0,295.7l3,3m0,-3l-3,3M630.5,295.2v4M628.5,297.2h4M632.0,296.5l3,3m0,-3l-3,3M633.5,296.0v4M631.5,298.0h4M634.0,295.2l3,3m0,-3l-3,3M635.5,294.7v4M633.5,296.7h4M634.0,295.6l3,3m0,-3l-3,3M635.5,295.1v4M633.5,297.1h4M635.0,291.3l3,3m0,-3l-3,3M636.5,290.8v4M634.5,292.8h4M636.0,297.0l3,3m0,-3l-3,3M637.5,296.5v4M635.5,298.5h4M636.0,295.2l3,3m0,-3l-3,3M637.5,294.7v4M635.5,296.7h4M637.0,289.7l3,3m0,-3l-3,3M638.5,289.2v4M636.5,291.2h4M641.0,291.6l3,3m0,-3l-3,3M642.5,291.1v4M640.5,293.1h4M643.0,291.9l3,3m0,-3l-3,3M644.5,291.4v4M642.5,293.4h4M644.0,291.7l3,3m0,-3l-3,3M645.5,291.2v4M643.5,293.2h4M644.0,289.6l3,3m0,-3l-3,3M645.5,289.1v4M643.5,291.1h4M647.0,291.9l3,3m0,-3l-3,3M648.5,291.4v4M646.5,293.4h4M648.0,295.6l3,3m0,-3l-3,3M649.5,295.1v4M647.5,297.1h4M650.0,295.6l3,3m0,-3l-3,3M651.5,295.1v4M649.5,297.1h4M651.0,295.5l3,3m0,-3l-3,3M652.5,295.0v4M650.5,297.0h4M652.0,291.2l3,3m0,-3l-3,3M653.5,290.7v4M651.5,292.7h4M653.0,296.5l3,3m0,-3l-3,3M654.5,296.0v4M652.5,298.0h4M658.0,291.3l3,3m0,-3l-3,3M659.5,290.8v4M657.5,292.8h4M660.0,292.0l3,3m0,-3l-3,3M661.5,291.5v4M659.5,293.5h4M661.0,295.8l3,3m0,-3l-3,3M662.5,295.3v4M660.5,297.3h4M663.0,295.9l3,3m0,-3l-3,3M664.5,295.4v4M662.5,297.4h4M664.0,295.4l3,3m0,-3l-3,3M665.5,294.9v4M663.5,296.9h4M665.0,295.7l3,3m0,-3l-3,3M666.5,295.2v4M664.5,297.2h4M670.0,295.4l3,3m0,-3l-3,3M671.5,294.9v4M669.5,296.9h4M672.0,295.9l3,3m0,-3l-3,3M673.5,295.4v4M671.5,297.4h4M673.0,291.7l3,3m0,-3l-3,3M674.5,291.2v4M672.5,293.2h4M674.0,295.5l3,3m0,-3l-3,3M675.5,295.0v4M673.5,297.0h4M674.0,295.7l3,3m0,-3l-3,3M675.5,295.2v4M673.5,297.2h4M675.0,291.8l3,3m0,-3l-3,3M676.5,291.3v4M674.5,293.3h4M677.0,290.5l3,3m0,-3l-3,3M678.5,290.0v4M676.5,292.0h4M341.0,271.0l3,3m0,-3l-3,3M342.5,270.5v4M340.5,272.5h4M341.0,274.6l3,3m0,-3l-3,3M342.5,274.1v4M340.5,276.1h4M341.0,278.4l3,3m0,-3l-3,3M342.5,277.9v4M340.5,279.9h4M341.0,282.9l3,3m0,-3l-3,3M342.5,282.4v4M340.5,284.4h4M342.5,312.5l3,3m0,-3l-3,3M344.0,312.0v4M342.0,314.0h4M342.5,309.0l3,3m0,-3l-3,3M344.0,308.5v4M342.0,310.5h4M342.5,304.8l3,3m0,-3l-3,3M344.0,304.3v4M342.0,306.3h4M342.5,301.5l3,3m0,-3l-3,3M344.0,301.0v4M342.0,303.0h4M352.5,313.5l3,3m0,-3l-3,3M354.0,313.0v4M352.0,315.0h4M352.5,308.8l3,3m0,-3l-3,3M354.0,308.3v4M352.0,310.3h4M352.5,305.2l3,3m0,-3l-3,3M354.0,304.7v4M352.0,306.7h4M352.5,301.0l3,3m0,-3l-3,3M354.0,300.5v4M352.0,302.5h4M358.5,272.5l3,3m0,-3l-3,3M360.0,272.0v4M358.0,274.0h4M358.5,276.3l3,3m0,-3l-3,3M360.0,275.8v4M358.0,277.8h4M358.5,280.9l3,3m0,-3l-3,3M360.0,280.4v4M358.0,282.4h4M358.5,321.0l3,3m0,-3l-3,3M360.0,320.5v4M358.0,322.5h4M358.5,316.4l3,3m0,-3l-3,3M360.0,315.9v4M358.0,317.9h4M358.5,312.4l3,3m0,-3l-3,3M360.0,311.9v4M358.0,313.9h4M358.5,308.0l3,3m0,-3l-3,3M360.0,307.5v4M358.0,309.5h4M358.5,304.1l3,3m0,-3l-3,3M360.0,303.6v4M358.0,305.6h4M358.5,300.7l3,3m0,-3l-3,3M360.0,300.2v4M358.0,302.2h4M367.5,273.5l3,3m0,-3l-3,3M369.0,273.0v4M367.0,275.0h4M367.5,276.8l3,3m0,-3l-3,3M369.0,276.3v4M367.0,278.3h4M367.5,280.2l3,3m0,-3l-3,3M369.0,279.7v4M367.0,281.7h4M389.5,310.5l3,3m0,-3l-3,3M391.0,310.0v4M389.0,312.0h4M389.5,306.3l3,3m0,-3l-3,3M391.0,305.8v4M389.0,307.8h4M389.5,301.8l3,3m0,-3l-3,3M391.0,301.3v4M389.0,303.3h4M397.5,273.5l3,3m0,-3l-3,3M399.0,273.0v4M397.0,275.0h4M397.5,277.9l3,3m0,-3l-3,3M399.0,277.4v4M397.0,279.4h4M397.5,281.6l3,3m0,-3l-3,3M399.0,281.1v4M397.0,283.1h4M397.5,332.5l3,3m0,-3l-3,3M399.0,332.0v4M397.0,334.0h4M397.5,328.6l3,3m0,-3l-3,3M399.0,328.1v4M397.0,330.1h4M397.5,324.5l3,3m0,-3l-3,3M399.0,324.0v4M397.0,326.0h4M397.5,321.0l3,3m0,-3l-3,3M399.0,320.5v4M397.0,322.5h4M397.5,317.2l3,3m0,-3l-3,3M399.0,316.7v4M397.0,318.7h4M397.5,313.0l3,3m0,-3l-3,3M399.0,312.5v4M397.0,314.5h4M397.5,309.5l3,3m0,-3l-3,3M399.0,309.0v4M397.0,311.0h4M397.5,305.6l3,3m0,-3l-3,3M399.0,305.1v4M397.0,307.1h4M397.5,301.6l3,3m0,-3l-3,3M399.0,301.1v4M397.0,303.1h4M412.5,261.0l3,3m0,-3l-3,3M414.0,260.5v4M412.0,262.5h4M412.5,265.3l3,3m0,-3l-3,3M414.0,264.8v4M412.0,266.8h4M412.5,269.6l3,3m0,-3l-3,3M414.0,269.1v4M412.0,271.1h4M412.5,273.2l3,3m0,-3l-3,3M414.0,272.7v4M412.0,274.7h4M412.5,277.6l3,3m0,-3l-3,3M414.0,277.1v4M412.0,279.1h4M412.5,281.8l3,3m0,-3l-3,3M414.0,281.3v4M412.0,283.3h4M423.0,263.5l3,3m0,-3l-3,3M424.5,263.0v4M422.5,265.0h4M423.0,267.1l3,3m0,-3l-3,3M424.5,266.6v4M422.5,268.6h4M423.0,270.9l3,3m0,-3l-3,3M424.5,270.4v4M422.5,272.4h4M423.0,274.7l3,3m0,-3l-3,3M424.5,274.2v4M422.5,276.2h4M423.0,278.8l3,3m0,-3l-3,3M424.5,278.3v4M422.5,280.3h4M423.0,282.6l3,3m0,-3l-3,3M424.5,282.1v4M422.5,284.1h4M423.0,312.5l3,3m0,-3l-3,3M424.5,312.0v4M422.5,314.0h4M423.0,308.5l3,3m0,-3l-3,3M424.5,308.0v4M422.5,310.0h4M423.0,304.5l3,3m0,-3l-3,3M424.5,304.0v4M422.5,306.0h4M423.0,300.7l3,3m0,-3l-3,3M424.5,300.2v4M422.5,302.2h4M436.0,277.5l3,3m0,-3l-3,3M437.5,277.0v4M435.5,279.0h4M436.0,281.1l3,3m0,-3l-3,3M437.5,280.6v4M435.5,282.6h4M444.5,278.5l3,3m0,-3l-3,3M446.0,278.0v4M444.0,280.0h4M444.5,283.1l3,3m0,-3l-3,3M446.0,282.6v4M444.0,284.6h4M448.5,307.5l3,3m0,-3l-3,3M450.0,307.0v4M448.0,309.0h4M448.5,303.0l3,3m0,-3l-3,3M450.0,302.5v4M448.0,304.5h4M448.5,299.3l3,3m0,-3l-3,3M450.0,298.8v4M448.0,300.8h4M463.5,286.0l3,3m0,-3l-3,3M465.0,285.5v4M463.0,287.5h4M463.5,290.2l3,3m0,-3l-3,3M465.0,289.7v4M463.0,291.7h4M494.5,287.5l3,3m0,-3l-3,3M496.0,287.0v4M494.0,289.0h4M494.5,291.0l3,3m0,-3l-3,3M496.0,290.5v4M494.0,292.5h4M520.0,300.5l3,3m0,-3l-3,3M521.5,300.0v4M519.5,302.0h4M520.0,295.9l3,3m0,-3l-3,3M521.5,295.4v4M519.5,297.4h4M543.5,288.0l3,3m0,-3l-3,3M545.0,287.5v4M543.0,289.5h4M543.5,291.5l3,3m0,-3l-3,3M545.0,291.0v4M543.0,293.0h4M636.0,286.0l3,3m0,-3l-3,3M637.5,285.5v4M635.5,287.5h4M636.0,290.1l3,3m0,-3l-3,3M637.5,289.6v4M635.5,291.6h4M636.0,311.0l3,3m0,-3l-3,3M637.5,310.5v4M635.5,312.5h4M636.0,306.7l3,3m0,-3l-3,3M637.5,306.2v4M635.5,308.2h4M636.0,302.0l3,3m0,-3l-3,3M637.5,301.5v4M635.5,303.5h4M636.0,297.3l3,3m0,-3l-3,3M637.5,296.8v4M635.5,298.8h4M661.0,272.5l3,3m0,-3l-3,3M662.5,272.0v4M660.5,274.0h4M661.0,276.4l3,3m0,-3l-3,3M662.5,275.9v4M660.5,277.9h4M661.0,279.7l3,3m0,-3l-3,3M662.5,279.2v4M660.5,281.2h4M661.0,283.3l3,3m0,-3l-3,3M662.5,282.8v4M660.5,284.8h4M661.0,287.7l3,3m0,-3l-3,3M662.5,287.2v4M660.5,289.2h4M665.0,302.5l3,3m0,-3l-3,3M666.5,302.0v4M664.5,304.0h4M665.0,297.8l3,3m0,-3l-3,3M666.5,297.3v4M664.5,299.3h4M160.5,306.5l3,3m0,-3l-3,3M162.0,306.0v4M160.0,308.0h4M160.5,302.1l3,3m0,-3l-3,3M162.0,301.6v4M160.0,303.6h4M161.5,279.5l3,3m0,-3l-3,3M163.0,279.0v4M161.0,281.0h4M168.5,280.5l3,3m0,-3l-3,3M170.0,280.0v4M168.0,282.0h4M172.5,307.5l3,3m0,-3l-3,3M174.0,307.0v4M172.0,309.0h4M172.5,303.6l3,3m0,-3l-3,3M174.0,303.1v4M172.0,305.1h4M180.5,278.5l3,3m0,-3l-3,3M182.0,278.0v4M180.0,280.0h4M180.5,282.9l3,3m0,-3l-3,3M182.0,282.4v4M180.0,284.4h4M194.5,279.5l3,3m0,-3l-3,3M196.0,279.0v4M194.0,281.0h4M194.5,283.1l3,3m0,-3l-3,3M196.0,282.6v4M194.0,284.6h4M198.5,307.5l3,3m0,-3l-3,3M200.0,307.0v4M198.0,309.0h4M198.5,303.9l3,3m0,-3l-3,3M200.0,303.4v4M198.0,305.4h4M207.5,308.5l3,3m0,-3l-3,3M209.0,308.0v4M207.0,310.0h4M207.5,304.0l3,3m0,-3l-3,3M209.0,303.5v4M207.0,305.5h4M211.5,306.5l3,3m0,-3l-3,3M213.0,306.0v4M211.0,308.0h4M211.5,302.9l3,3m0,-3l-3,3M213.0,302.4v4M211.0,304.4h4M220.5,277.5l3,3m0,-3l-3,3M222.0,277.0v4M220.0,279.0h4M220.5,281.9l3,3m0,-3l-3,3M222.0,281.4v4M220.0,283.4h4M226.5,279.5l3,3m0,-3l-3,3M228.0,279.0v4M226.0,281.0h4M226.5,283.6l3,3m0,-3l-3,3M228.0,283.1v4M226.0,285.1h4M230.5,305.5l3,3m0,-3l-3,3M232.0,305.0v4M230.0,307.0h4M230.5,301.9l3,3m0,-3l-3,3M232.0,301.4v4M230.0,303.4h4M239.5,276.5l3,3m0,-3l-3,3M241.0,276.0v4M239.0,278.0h4M239.5,280.8l3,3m0,-3l-3,3M241.0,280.3v4M239.0,282.3h4M239.5,284.5l3,3m0,-3l-3,3M241.0,284.0v4M239.0,286.0h4M250.5,281.5l3,3m0,-3l-3,3M252.0,281.0v4M250.0,283.0h4M250.5,284.9l3,3m0,-3l-3,3M252.0,284.4v4M250.0,286.4h4M256.5,303.5l3,3m0,-3l-3,3M258.0,303.0v4M256.0,305.0h4M261.5,306.5l3,3m0,-3l-3,3M263.0,306.0v4M261.0,308.0h4M261.5,302.3l3,3m0,-3l-3,3M263.0,301.8v4M261.0,303.8h4M270.5,282.5l3,3m0,-3l-3,3M272.0,282.0v4M270.0,284.0h4M270.5,286.0l3,3m0,-3l-3,3M272.0,285.5v4M270.0,287.5h4M288.5,282.5l3,3m0,-3l-3,3M290.0,282.0v4M288.0,284.0h4M308.5,304.5l3,3m0,-3l-3,3M310.0,304.0v4M308.0,306.0h4M308.5,300.8l3,3m0,-3l-3,3M310.0,300.3v4M308.0,302.3h4M298.5,303.5l3,3m0,-3l-3,3M300.0,303.0v4M298.0,305.0h4M298.5,299.8l3,3m0,-3l-3,3M300.0,299.3v4M298.0,301.3h4M318.5,281.5l3,3m0,-3l-3,3M320.0,281.0v4M318.0,283.0h4M318.5,285.8l3,3m0,-3l-3,3M320.0,285.3v4M318.0,287.3h4M323.5,303.5l3,3m0,-3l-3,3M325.0,303.0v4M323.0,305.0h4M323.5,299.2l3,3m0,-3l-3,3M325.0,298.7v4M323.0,300.7h4M334.5,278.5l3,3m0,-3l-3,3M336.0,278.0v4M334.0,280.0h4M334.5,282.9l3,3m0,-3l-3,3M336.0,282.4v4M334.0,284.4h4M334.5,287.1l3,3m0,-3l-3,3M336.0,286.6v4M334.0,288.6h4M373.5,277.5l3,3m0,-3l-3,3M375.0,277.0v4M373.0,279.0h4M373.5,280.8l3,3m0,-3l-3,3M375.0,280.3v4M373.0,282.3h4M378.5,308.5l3,3m0,-3l-3,3M380.0,308.0v4M378.0,310.0h4M378.5,304.1l3,3m0,-3l-3,3M380.0,303.6v4M378.0,305.6h4M378.5,300.5l3,3m0,-3l-3,3M380.0,300.0v4M378.0,302.0h4M383.5,276.5l3,3m0,-3l-3,3M385.0,276.0v4M383.0,278.0h4M383.5,280.9l3,3m0,-3l-3,3M385.0,280.4v4M383.0,282.4h4M403.5,308.5l3,3m0,-3l-3,3M405.0,308.0v4M403.0,310.0h4M403.5,303.9l3,3m0,-3l-3,3M405.0,303.4v4M403.0,305.4h4M408.5,278.5l3,3m0,-3l-3,3M410.0,278.0v4M408.0,280.0h4M408.5,282.9l3,3m0,-3l-3,3M410.0,282.4v4M408.0,284.4h4M428.5,306.5l3,3m0,-3l-3,3M430.0,306.0v4M428.0,308.0h4M428.5,302.6l3,3m0,-3l-3,3M430.0,302.1v4M428.0,304.1h4M431.5,278.5l3,3m0,-3l-3,3M433.0,278.0v4M431.0,280.0h4M431.5,282.3l3,3m0,-3l-3,3M433.0,281.8v4M431.0,283.8h4M346.5,276.5l3,3m0,-3l-3,3M348.0,276.0v4M346.0,278.0h4M346.5,280.6l3,3m0,-3l-3,3M348.0,280.1v4M346.0,282.1h4M350.5,278.5l3,3m0,-3l-3,3M352.0,278.0v4M350.0,280.0h4M350.5,282.0l3,3m0,-3l-3,3M352.0,281.5v4M350.0,283.5h4M363.5,306.5l3,3m0,-3l-3,3M365.0,306.0v4M363.0,308.0h4M363.5,302.9l3,3m0,-3l-3,3M365.0,302.4v4M363.0,304.4h4M370.5,307.5l3,3m0,-3l-3,3M372.0,307.0v4M370.0,309.0h4M370.5,303.0l3,3m0,-3l-3,3M372.0,302.5v4M370.0,304.5h4M392.5,278.5l3,3m0,-3l-3,3M394.0,278.0v4M392.0,280.0h4M392.5,281.9l3,3m0,-3l-3,3M394.0,281.4v4M392.0,283.4h4M401.5,277.5l3,3m0,-3l-3,3M403.0,277.0v4M401.0,279.0h4M401.5,282.1l3,3m0,-3l-3,3M403.0,281.6v4M401.0,283.6h4M406.5,305.5l3,3m0,-3l-3,3M408.0,305.0v4M406.0,307.0h4M406.5,302.2l3,3m0,-3l-3,3M408.0,301.7v4M406.0,303.7h4M416.5,277.5l3,3m0,-3l-3,3M418.0,277.0v4M416.0,279.0h4M416.5,280.8l3,3m0,-3l-3,3M418.0,280.3v4M416.0,282.3h4M419.5,306.5l3,3m0,-3l-3,3M421.0,306.0v4M419.0,308.0h4M419.5,303.0l3,3m0,-3l-3,3M421.0,302.5v4M419.0,304.5h4M426.5,278.5l3,3m0,-3l-3,3M428.0,278.0v4M426.0,280.0h4M426.5,283.2l3,3m0,-3l-3,3M428.0,282.7v4M426.0,284.7h4M438.5,304.5l3,3m0,-3l-3,3M440.0,304.0v4M438.0,306.0h4M441.5,280.5l3,3m0,-3l-3,3M443.0,280.0v4M441.0,282.0h4M441.5,284.9l3,3m0,-3l-3,3M443.0,284.4v4M441.0,286.4h4" stroke="#00ff66" stroke-width="1" fill="none" shape-rendering="crispEdges"/>
<g stroke="#1478ff" stroke-width="1" fill="none" shape-rendering="crispEdges">
<path d="M1140.5,59V340M1140.5,336.5h-11M1140.5,330.5h-11M1140.5,324.5h-11M1140.5,318.5h-11M1140.5,312.5h-11M1140.5,306.5h-22M1140.5,300.5h-11M1140.5,294.5h-11M1140.5,288.5h-11M1140.5,282.5h-11M1140.5,276.5h-11M1140.5,270.5h-11M1140.5,264.5h-11M1140.5,258.5h-11M1140.5,252.5h-11M1140.5,247.5h-22M1140.5,241.5h-11M1140.5,235.5h-11M1140.5,229.5h-11M1140.5,223.5h-11M1140.5,217.5h-11M1140.5,211.5h-11M1140.5,205.5h-11M1140.5,199.5h-11M1140.5,193.5h-11M1140.5,187.5h-22M1140.5,181.5h-11M1140.5,175.5h-11M1140.5,169.5h-11M1140.5,163.5h-11M1140.5,157.5h-11M1140.5,151.5h-11M1140.5,145.5h-11M1140.5,139.5h-11M1140.5,133.5h-11M1140.5,128.5h-22M1140.5,122.5h-11M1140.5,116.5h-11M1140.5,110.5h-11M1140.5,104.5h-11M1140.5,98.5h-11M1140.5,92.5h-11M1140.5,86.5h-11M1140.5,80.5h-11M1140.5,74.5h-11M1140.5,68.5h-22M1140.5,62.5h-11"/>
</g>
<g font-family="'Liberation Sans', sans-serif" stroke="#fff" stroke-width="0.2" paint-order="fill" style="opacity:0.999">
<text x="194.5" y="362" font-size="14.5" text-anchor="middle" fill="#000" textLength="27.5" lengthAdjust="spacingAndGlyphs">400</text>
<text x="367.5" y="362" font-size="14.5" text-anchor="middle" fill="#000" textLength="27.5" lengthAdjust="spacingAndGlyphs">500</text>
<text x="540.5" y="362" font-size="14.5" text-anchor="middle" fill="#000" textLength="27.5" lengthAdjust="spacingAndGlyphs">600</text>
<text x="713.5" y="362" font-size="14.5" text-anchor="middle" fill="#000" textLength="27.5" lengthAdjust="spacingAndGlyphs">700</text>
<text x="886.5" y="362" font-size="14.5" text-anchor="middle" fill="#000" textLength="27.5" lengthAdjust="spacingAndGlyphs">800</text>
<text x="1059.5" y="362" font-size="14.5" text-anchor="middle" fill="#000" textLength="27.5" lengthAdjust="spacingAndGlyphs">900</text>
<text x="97.5" y="301.0" font-size="14.5" text-anchor="end" fill="#000" textLength="22.5" lengthAdjust="spacingAndGlyphs">0.0</text>
<text x="97.5" y="216.0" font-size="14.5" text-anchor="end" fill="#000" textLength="22.5" lengthAdjust="spacingAndGlyphs">0.5</text>
<text x="97.5" y="131.0" font-size="14.5" text-anchor="end" fill="#000" textLength="22.5" lengthAdjust="spacingAndGlyphs">1.0</text>
<text x="1144.5" y="313.0" font-size="14.5" text-anchor="start" fill="#1478ff" textLength="23" lengthAdjust="spacingAndGlyphs">0.6</text>
<text x="1144.5" y="253.50000000000003" font-size="14.5" text-anchor="start" fill="#1478ff" textLength="23" lengthAdjust="spacingAndGlyphs">0.7</text>
<text x="1144.5" y="193.99999999999997" font-size="14.5" text-anchor="start" fill="#1478ff" textLength="23" lengthAdjust="spacingAndGlyphs">0.8</text>
<text x="1144.5" y="134.5" font-size="14.5" text-anchor="start" fill="#1478ff" textLength="23" lengthAdjust="spacingAndGlyphs">0.9</text>
<text x="1144.5" y="75.0" font-size="14.5" text-anchor="start" fill="#1478ff" textLength="23" lengthAdjust="spacingAndGlyphs">1.0</text>
<text x="621" y="382.5" font-size="14.5" text-anchor="middle" fill="#000" textLength="115" lengthAdjust="spacingAndGlyphs">wavelength, nm</text>
<text x="62.5" y="199.5" font-size="14.5" text-anchor="middle" fill="#000" textLength="72" lengthAdjust="spacingAndGlyphs" transform="rotate(-90 62.5 199.5)">flux, units</text>
<text x="1184" y="199.5" font-size="14.5" text-anchor="middle" fill="#1478ff" textLength="45" lengthAdjust="spacingAndGlyphs" transform="rotate(-90 1184 199.5)">mcont</text>
<text x="175.8" y="50.5" font-size="17.5" text-anchor="start" fill="#000" textLength="97" lengthAdjust="spacingAndGlyphs">HD110897</text>
<text x="302.5" y="50.5" font-size="17.5" text-anchor="start" fill="#000" textLength="5.0" lengthAdjust="spacingAndGlyphs">(</text>
<text x="311" y="50.5" font-size="17.5" text-anchor="start" fill="#000" textLength="120" lengthAdjust="spacingAndGlyphs">−97.492657,</text>
<text x="441" y="50.5" font-size="17.5" text-anchor="start" fill="#000" textLength="106" lengthAdjust="spacingAndGlyphs">35.104404,</text>
<text x="558" y="50.5" font-size="17.5" text-anchor="start" fill="#000" textLength="104.5" lengthAdjust="spacingAndGlyphs">6083.9404,</text>
<text x="675" y="50.5" font-size="17.5" text-anchor="start" fill="#000" textLength="104" lengthAdjust="spacingAndGlyphs">4.5808964,</text>
<text x="792" y="50.5" font-size="17.5" text-anchor="start" fill="#000" textLength="130.7" lengthAdjust="spacingAndGlyphs">−0.52972055,</text>
<text x="933.7" y="50.5" font-size="17.5" text-anchor="start" fill="#000" textLength="129.3" lengthAdjust="spacingAndGlyphs">0.067944434)</text>
</g>
</svg>
</body></html>
